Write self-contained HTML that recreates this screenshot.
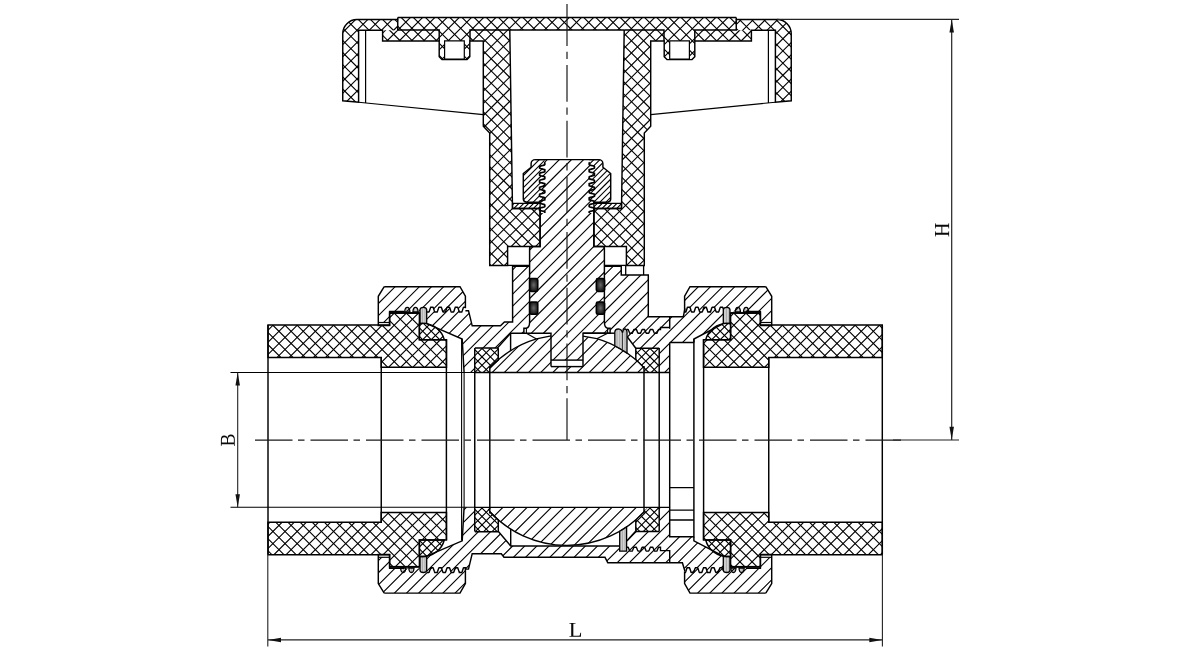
<!DOCTYPE html>
<html><head><meta charset="utf-8"><title>Ball valve section</title>
<style>html,body{margin:0;padding:0;background:#fff;font-family:"Liberation Serif",serif}svg{display:block}</style>
</head><body>
<svg width="1203" height="660" viewBox="0 0 1203 660">
<rect width="1203" height="660" fill="#fff"/>
<defs>
<clipPath id="c1"><path d="M567 17.5L397.75 17.5L397.75 30.3L382.6 30.3L382.6 41L439.2 41L439.2 56.8L442 59.6L467 59.6L469.8 56.8L469.8 41L483.3 41L483.3 126.3L489.7 133L489.7 265.4L507.6 265.4L507.6 246.5L540.1 246.5L540.1 208.5L512.5 208.5L509.8 30L567 30ZM444.6 40.9L464.3 40.9L464.3 59L444.6 59Z" clip-rule="evenodd"/></clipPath>
<clipPath id="c2"><path d="M397.75 19.5L357 19.5A14.2 14.2 0 0 0 342.75 33.7L342.75 100.75L358.6 102.2L358.6 30.3L397.75 30.3Z" clip-rule="evenodd"/></clipPath>
<clipPath id="c3"><path d="M567 17.5L736.25 17.5L736.25 30.3L751.4 30.3L751.4 41L694.8 41L694.8 56.8L692 59.6L667 59.6L664.2 56.8L664.2 41L650.7 41L650.7 126.3L644.3 133L644.3 265.4L626.4 265.4L626.4 246.5L593.9 246.5L593.9 208.5L621.5 208.5L624.2 30L567 30ZM689.4 40.9L669.7 40.9L669.7 59L689.4 59Z" clip-rule="evenodd"/></clipPath>
<clipPath id="c4"><path d="M736.25 19.5L777 19.5A14.2 14.2 0 0 1 791.25 33.7L791.25 100.75L775.4 102.2L775.4 30.3L736.25 30.3Z" clip-rule="evenodd"/></clipPath>
<clipPath id="c5"><path d="M567 159.6L544.7 159.6L544.12 162.5L544.8 162.9L544.8 163.3L544.8 163.7L544.8 164.1L544.8 164.5L544.45 164.9L542.97 165.31L541.39 165.71L539.91 166.11L539.6 166.51L539.6 166.91L539.6 167.31L539.6 167.71L539.6 168.11L540.32 168.51L541.85 168.91L543.43 169.31L544.8 169.71L544.8 170.12L544.8 170.52L544.8 170.92L544.8 171.32L544.8 171.72L543.68 172.12L542.12 172.52L540.57 172.92L539.6 173.32L539.6 173.72L539.6 174.12L539.6 174.52L539.6 174.92L539.68 175.33L541.12 175.73L542.7 176.13L544.22 176.53L544.8 176.93L544.8 177.33L544.8 177.73L544.8 178.13L544.8 178.53L544.36 178.93L542.86 179.33L541.28 179.73L539.82 180.13L539.6 180.54L539.6 180.94L539.6 181.34L539.6 181.74L539.6 182.14L540.43 182.54L541.96 182.94L543.53 183.34L544.8 183.74L544.8 184.14L544.8 184.54L544.8 184.94L544.8 185.35L544.8 185.75L543.58 186.15L542.01 186.55L540.47 186.95L539.6 187.35L539.6 187.75L539.6 188.15L539.6 188.55L539.6 188.95L539.78 189.35L541.23 189.75L542.81 190.15L544.31 190.56L544.8 190.96L544.8 191.36L544.8 191.76L544.8 192.16L544.8 192.56L544.26 192.96L542.75 193.36L541.17 193.76L539.72 194.16L539.6 194.56L539.6 194.96L539.6 195.37L539.6 195.77L539.6 196.17L540.53 196.57L542.07 196.97L543.64 197.37L544.8 197.77L544.8 198.17L544.8 198.57L544.8 198.97L544.8 199.37L544.8 199.77L543.47 200.17L541.9 200.58L540.37 200.98L539.6 201.38L539.6 201.78L539.6 202.18L539.6 202.58L539.6 202.98L539.87 203.38L541.34 203.78L542.92 204.18L544.41 204.58L544.8 204.98L544.8 205.38L544.8 205.79L544.8 206.19L544.8 206.59L544.16 206.99L542.64 207.39L541.06 207.79L539.63 208.19L539.6 208.59L539.6 208.99L539.6 209.39L539.6 209.79L539.6 210.19L540.63 210.6L542.18 211L543.74 211.4L544.8 211.8L544.8 212.2L544.8 212.6L544.8 213L540.1 213L540.1 246.5L531.6 246.5A2 2 0 0 0 529.6 248.5L529.6 322.5Q529.4 327.6 526.4 328.3L523.9 328.3L523.9 333.2L551 333.2L551 360.1L567 360.1Z" clip-rule="evenodd"/></clipPath>
<clipPath id="c6"><path d="M567 159.6L589.3 159.6L589.88 162.5L589.2 162.9L589.2 163.3L589.2 163.7L589.2 164.1L589.2 164.5L589.55 164.9L591.03 165.31L592.61 165.71L594.09 166.11L594.4 166.51L594.4 166.91L594.4 167.31L594.4 167.71L594.4 168.11L593.68 168.51L592.15 168.91L590.57 169.31L589.2 169.71L589.2 170.12L589.2 170.52L589.2 170.92L589.2 171.32L589.2 171.72L590.32 172.12L591.88 172.52L593.43 172.92L594.4 173.32L594.4 173.72L594.4 174.12L594.4 174.52L594.4 174.92L594.32 175.33L592.88 175.73L591.3 176.13L589.78 176.53L589.2 176.93L589.2 177.33L589.2 177.73L589.2 178.13L589.2 178.53L589.64 178.93L591.14 179.33L592.72 179.73L594.18 180.13L594.4 180.54L594.4 180.94L594.4 181.34L594.4 181.74L594.4 182.14L593.57 182.54L592.04 182.94L590.47 183.34L589.2 183.74L589.2 184.14L589.2 184.54L589.2 184.94L589.2 185.35L589.2 185.75L590.42 186.15L591.99 186.55L593.53 186.95L594.4 187.35L594.4 187.75L594.4 188.15L594.4 188.55L594.4 188.95L594.22 189.35L592.77 189.75L591.19 190.15L589.69 190.56L589.2 190.96L589.2 191.36L589.2 191.76L589.2 192.16L589.2 192.56L589.74 192.96L591.25 193.36L592.83 193.76L594.28 194.16L594.4 194.56L594.4 194.96L594.4 195.37L594.4 195.77L594.4 196.17L593.47 196.57L591.93 196.97L590.36 197.37L589.2 197.77L589.2 198.17L589.2 198.57L589.2 198.97L589.2 199.37L589.2 199.77L590.53 200.17L592.1 200.58L593.63 200.98L594.4 201.38L594.4 201.78L594.4 202.18L594.4 202.58L594.4 202.98L594.13 203.38L592.66 203.78L591.08 204.18L589.59 204.58L589.2 204.98L589.2 205.38L589.2 205.79L589.2 206.19L589.2 206.59L589.84 206.99L591.36 207.39L592.94 207.79L594.37 208.19L594.4 208.59L594.4 208.99L594.4 209.39L594.4 209.79L594.4 210.19L593.37 210.6L591.82 211L590.26 211.4L589.2 211.8L589.2 212.2L589.2 212.6L589.2 213L593.9 213L593.9 246.5L602.4 246.5A2 2 0 0 1 604.4 248.5L604.4 322.5Q604.6 327.6 607.6 328.3L610.1 328.3L610.1 333.2L583 333.2L583 360.1L567 360.1Z" clip-rule="evenodd"/></clipPath>
<clipPath id="c7"><path d="M544.7 159.6L535.3 159.6A4.2 4.2 0 0 0 531.1 163.8L531.1 167.2L523.3 173.5L523.3 199.1Q523.5 202 527 202.3L541 202.3L539.6 202.18L539.6 201.78L539.6 201.38L540.37 200.98L541.9 200.58L543.47 200.17L544.8 199.77L544.8 199.37L544.8 198.97L544.8 198.57L544.8 198.17L544.8 197.77L543.64 197.37L542.07 196.97L540.53 196.57L539.6 196.17L539.6 195.77L539.6 195.37L539.6 194.96L539.6 194.56L539.72 194.16L541.17 193.76L542.75 193.36L544.26 192.96L544.8 192.56L544.8 192.16L544.8 191.76L544.8 191.36L544.8 190.96L544.31 190.56L542.81 190.15L541.23 189.75L539.78 189.35L539.6 188.95L539.6 188.55L539.6 188.15L539.6 187.75L539.6 187.35L540.47 186.95L542.01 186.55L543.58 186.15L544.8 185.75L544.8 185.35L544.8 184.94L544.8 184.54L544.8 184.14L544.8 183.74L543.53 183.34L541.96 182.94L540.43 182.54L539.6 182.14L539.6 181.74L539.6 181.34L539.6 180.94L539.6 180.54L539.82 180.13L541.28 179.73L542.86 179.33L544.36 178.93L544.8 178.53L544.8 178.13L544.8 177.73L544.8 177.33L544.8 176.93L544.22 176.53L542.7 176.13L541.12 175.73L539.68 175.33L539.6 174.92L539.6 174.52L539.6 174.12L539.6 173.72L539.6 173.32L540.57 172.92L542.12 172.52L543.68 172.12L544.8 171.72L544.8 171.32L544.8 170.92L544.8 170.52L544.8 170.12L544.8 169.71L543.43 169.31L541.85 168.91L540.32 168.51L539.6 168.11L539.6 167.71L539.6 167.31L539.6 166.91L539.6 166.51L539.91 166.11L541.39 165.71L542.97 165.31L544.45 164.9L544.8 164.5L544.8 164.1L544.8 163.7L544.8 163.3L544.8 162.9L544.12 162.5Z" clip-rule="evenodd"/></clipPath>
<clipPath id="c8"><path d="M512.5 203.3L540.1 203.3L540.1 208.5L512.5 208.5Z" clip-rule="evenodd"/></clipPath>
<clipPath id="c9"><path d="M589.3 159.6L598.7 159.6A4.2 4.2 0 0 1 602.9 163.8L602.9 167.2L610.7 173.5L610.7 199.1Q610.5 202 607 202.3L593 202.3L594.4 202.18L594.4 201.78L594.4 201.38L593.63 200.98L592.1 200.58L590.53 200.17L589.2 199.77L589.2 199.37L589.2 198.97L589.2 198.57L589.2 198.17L589.2 197.77L590.36 197.37L591.93 196.97L593.47 196.57L594.4 196.17L594.4 195.77L594.4 195.37L594.4 194.96L594.4 194.56L594.28 194.16L592.83 193.76L591.25 193.36L589.74 192.96L589.2 192.56L589.2 192.16L589.2 191.76L589.2 191.36L589.2 190.96L589.69 190.56L591.19 190.15L592.77 189.75L594.22 189.35L594.4 188.95L594.4 188.55L594.4 188.15L594.4 187.75L594.4 187.35L593.53 186.95L591.99 186.55L590.42 186.15L589.2 185.75L589.2 185.35L589.2 184.94L589.2 184.54L589.2 184.14L589.2 183.74L590.47 183.34L592.04 182.94L593.57 182.54L594.4 182.14L594.4 181.74L594.4 181.34L594.4 180.94L594.4 180.54L594.18 180.13L592.72 179.73L591.14 179.33L589.64 178.93L589.2 178.53L589.2 178.13L589.2 177.73L589.2 177.33L589.2 176.93L589.78 176.53L591.3 176.13L592.88 175.73L594.32 175.33L594.4 174.92L594.4 174.52L594.4 174.12L594.4 173.72L594.4 173.32L593.43 172.92L591.88 172.52L590.32 172.12L589.2 171.72L589.2 171.32L589.2 170.92L589.2 170.52L589.2 170.12L589.2 169.71L590.57 169.31L592.15 168.91L593.68 168.51L594.4 168.11L594.4 167.71L594.4 167.31L594.4 166.91L594.4 166.51L594.09 166.11L592.61 165.71L591.03 165.31L589.55 164.9L589.2 164.5L589.2 164.1L589.2 163.7L589.2 163.3L589.2 162.9L589.88 162.5Z" clip-rule="evenodd"/></clipPath>
<clipPath id="c10"><path d="M621.5 203.3L593.9 203.3L593.9 208.5L621.5 208.5Z" clip-rule="evenodd"/></clipPath>
<radialGradient id="org" cx="0.5" cy="0.5" r="0.6"><stop offset="0" stop-color="#6a6a6a"/><stop offset="0.55" stop-color="#333"/><stop offset="1" stop-color="#0c0c0c"/></radialGradient>
<clipPath id="c11"><path d="M529.6 266.3L512.6 266.3L512.6 322L504.4 322L500.5 325.8L472.2 325.8L468.5 310.7L465.4 310.7L465.4 307.3L465 307.3L464.59 307.3L464.19 307.3L463.79 307.3L463.38 307.52L462.98 308.65L462.58 309.87L462.17 311.07L461.77 312L461.37 312L460.97 312L460.56 312L460.16 312L459.76 312L459.35 311.96L458.95 310.86L458.55 309.64L458.14 308.43L457.74 307.33L457.34 307.3L456.93 307.3L456.53 307.3L456.13 307.3L455.72 307.3L455.32 307.3L454.92 308.25L454.52 309.45L454.11 310.67L453.71 311.8L453.31 312L452.9 312L452.5 312L452.1 312L451.69 312L451.29 312L450.89 311.25L450.48 310.06L450.08 308.83L449.68 307.68L449.27 307.3L448.87 307.3L448.47 307.3L448.07 307.3L447.66 307.3L447.26 307.3L446.86 307.86L446.45 309.03L446.05 310.26L445.65 311.43L445.24 312L444.84 312L444.44 312L444.03 312L443.63 312L443.23 312L442.82 311.63L442.42 310.48L442.02 309.25L441.62 308.06L441.21 307.3L440.81 307.3L440.41 307.3L440 307.3L439.6 307.3L439.2 307.3L438.79 307.49L438.39 308.62L437.99 309.84L437.58 311.05L437.18 312L436.78 312L436.38 312L435.97 312L435.57 312L435.17 312L434.76 311.98L434.36 310.88L433.96 309.67L433.55 308.45L433.15 307.35L432.75 307.3L432.34 307.3L431.94 307.3L431.54 307.3L431.13 307.3L430.73 307.3L430.33 308.22L429.93 309.42L429.52 310.64L429.12 311.77L428.72 312L428.31 312L427.91 312L427.51 312L427.1 312L426.7 312L426.7 323.6L462.2 339L464.1 372.5L474.75 372.5L474.75 348L497.4 348L510.6 333.2L523.9 333.2L523.9 328.3L526.4 328.3Q529.4 327.6 529.6 322.5Z" clip-rule="evenodd"/></clipPath>
<clipPath id="c12"><path d="M604.6 266.3L621.25 266.3L621.25 274.9L648.3 274.9L648.3 316.7L683.3 316.7L685 308.3L684.6 312L685 312L685.41 312L685.81 312L686.21 310.96L686.62 309.76L687.02 308.54L687.42 307.42L687.83 307.3L688.23 307.3L688.63 307.3L689.03 307.3L689.44 307.3L689.84 307.3L690.24 308.14L690.65 309.33L691.05 310.56L691.45 311.7L691.86 312L692.26 312L692.66 312L693.07 312L693.47 312L693.87 312L694.28 311.35L694.68 310.17L695.08 308.95L695.48 307.78L695.89 307.3L696.29 307.3L696.69 307.3L697.1 307.3L697.5 307.3L697.9 307.3L698.31 307.76L698.71 308.92L699.11 310.15L699.52 311.33L699.92 312L700.32 312L700.73 312L701.13 312L701.53 312L701.93 312L702.34 311.72L702.74 310.59L703.14 309.36L703.55 308.17L703.95 307.3L704.35 307.3L704.76 307.3L705.16 307.3L705.56 307.3L705.97 307.3L706.37 307.4L706.77 308.51L707.17 309.73L707.58 310.94L707.98 312L708.38 312L708.79 312L709.19 312L709.59 312L710 312L710.4 312L710.8 310.99L711.21 309.78L711.61 308.56L712.01 307.45L712.42 307.3L712.82 307.3L713.22 307.3L713.62 307.3L714.03 307.3L714.43 307.3L714.83 308.11L715.24 309.31L715.64 310.53L716.04 311.68L716.45 312L716.85 312L717.25 312L717.66 312L718.06 312L718.46 312L718.87 311.38L719.27 310.2L719.67 308.97L720.08 307.81L720.48 307.3L720.88 307.3L721.28 307.3L721.69 307.3L722.09 307.3L722.49 307.3L722.9 307.73L723.3 308.89L723.3 323.6L693.9 339L693.9 342.5L669.7 342.5L669.7 372.5L659.2 372.5L659.2 348.3L635.8 348.3L627 336.5L627 329.5L615 329.5L615 333.2L610.1 333.2L610.1 328.3L607.6 328.3Q604.8 327.6 604.6 322.5Z" clip-rule="evenodd"/></clipPath>
<clipPath id="c13"><path d="M426.7 572.5L427.1 572.5L427.51 572.5L427.91 572.5L428.31 572.5L428.72 572.5L429.12 572.27L429.52 571.14L429.93 569.92L430.33 568.72L430.73 567.8L431.13 567.8L431.54 567.8L431.94 567.8L432.34 567.8L432.75 567.8L433.15 567.85L433.55 568.95L433.96 570.17L434.36 571.38L434.76 572.48L435.17 572.5L435.57 572.5L435.97 572.5L436.38 572.5L436.78 572.5L437.18 572.5L437.58 571.55L437.99 570.34L438.39 569.12L438.79 567.99L439.2 567.8L439.6 567.8L440 567.8L440.41 567.8L440.81 567.8L441.21 567.8L441.62 568.56L442.02 569.75L442.42 570.98L442.82 572.13L443.23 572.5L443.63 572.5L444.03 572.5L444.44 572.5L444.84 572.5L445.24 572.5L445.65 571.93L446.05 570.76L446.45 569.53L446.86 568.36L447.26 567.8L447.66 567.8L448.07 567.8L448.47 567.8L448.87 567.8L449.27 567.8L449.68 568.18L450.08 569.33L450.48 570.56L450.89 571.75L451.29 572.5L451.69 572.5L452.1 572.5L452.5 572.5L452.9 572.5L453.31 572.5L453.71 572.3L454.11 571.17L454.52 569.95L454.92 568.75L455.32 567.8L455.72 567.8L456.13 567.8L456.53 567.8L456.93 567.8L457.34 567.8L457.74 567.83L458.14 568.93L458.55 570.14L458.95 571.36L459.35 572.46L459.76 572.5L460.16 572.5L460.56 572.5L460.97 572.5L461.37 572.5L461.77 572.5L462.17 571.57L462.58 570.37L462.98 569.15L463.38 568.02L463.79 567.8L464.19 567.8L464.59 567.8L465 567.8L465.4 567.8L465.4 569.1L468.5 569.1L472.2 553.7L501.3 553.7L504 557.3L605 557.3L607.8 562.8L682.4 562.8L685 571.5L684.6 572.5L685 572.5L685.41 572.5L685.81 571.47L686.21 570.26L686.62 569.05L687.02 567.93L687.42 567.8L687.83 567.8L688.23 567.8L688.63 567.8L689.03 567.8L689.44 567.8L689.84 568.63L690.24 569.83L690.65 571.05L691.05 572.19L691.45 572.5L691.86 572.5L692.26 572.5L692.66 572.5L693.07 572.5L693.47 572.5L693.87 571.86L694.28 570.68L694.68 569.46L695.08 568.29L695.48 567.8L695.89 567.8L696.29 567.8L696.69 567.8L697.1 567.8L697.5 567.8L697.9 568.25L698.31 569.41L698.71 570.64L699.11 571.82L699.52 572.5L699.92 572.5L700.32 572.5L700.73 572.5L701.13 572.5L701.53 572.5L701.93 572.23L702.34 571.1L702.74 569.87L703.14 568.67L703.55 567.8L703.95 567.8L704.35 567.8L704.76 567.8L705.16 567.8L705.56 567.8L705.97 567.89L706.37 569L706.77 570.22L707.17 571.43L707.58 572.5L707.98 572.5L708.38 572.5L708.79 572.5L709.19 572.5L709.59 572.5L710 572.5L710.4 571.5L710.8 570.29L711.21 569.07L711.61 567.95L712.01 567.8L712.42 567.8L712.82 567.8L713.22 567.8L713.62 567.8L714.03 567.8L714.43 568.6L714.83 569.8L715.24 571.02L715.64 572.17L716.04 572.5L716.45 572.5L716.85 572.5L717.25 572.5L717.66 572.5L718.06 572.5L718.46 571.89L718.87 570.71L719.27 569.48L719.67 568.32L720.08 567.8L720.48 567.8L720.88 567.8L721.28 567.8L721.69 567.8L722.09 567.8L722.49 568.22L722.9 569.38L723.3 570.61L723.3 556.2L693.9 540.8L693.9 536.8L669.7 536.8L669.7 507.3L659.2 507.3L659.2 531.3L635.6 531.3L627 540.7L627 551.2L619.7 551.2L619.7 546L510.7 546L498.2 531.3L474.75 531.3L474.75 507.3L464.1 507.3L462.2 540.8L426.7 556.2Z" clip-rule="evenodd"/></clipPath>
<clipPath id="c14"><path d="M485.84 372.5A105.5 105.5 0 0 1 536.5 338.9L551 335.8V366.6H583V336.2L596.8 338.7A105.5 105.5 0 0 1 648.16 372.5Z" clip-rule="evenodd"/></clipPath>
<clipPath id="c15"><path d="M485.84 507.3A105.5 105.5 0 0 0 648.16 507.3Z" clip-rule="evenodd"/></clipPath>
<clipPath id="c16"><path d="M474.9 348L497.6 348L498.3 348.8L498.3 359.83A105.5 105.5 0 0 0 489.8 367.99L489.8 372.5L474.75 372.5Z" clip-rule="evenodd"/></clipPath>
<clipPath id="c17"><path d="M635.8 359.92L635.8 348.3L659.2 348.3L659.2 372.5L644 372.5L644 367.78A105.5 105.5 0 0 0 635.8 359.92Z" clip-rule="evenodd"/></clipPath>
<clipPath id="c18"><path d="M474.9 531.8L497.6 531.8L498.3 531L498.3 519.97A105.5 105.5 0 0 1 489.8 511.81L489.8 507.3L474.75 507.3Z" clip-rule="evenodd"/></clipPath>
<clipPath id="c19"><path d="M635.8 519.88L635.8 531.5L659.2 531.5L659.2 507.3L644 507.3L644 512.02A105.5 105.5 0 0 1 635.8 519.88Z" clip-rule="evenodd"/></clipPath>
<clipPath id="c20"><path d="M420 323.3L420 309.6Q420.2 307.3 423.3 307.3Q426.5 307.3 426.7 309.6L426.7 323.3Z" clip-rule="evenodd"/></clipPath>
<clipPath id="c21"><path d="M412.9 311.8Q413.1 307.3 415.5 307.3Q417.9 307.3 418.1 311.8Z" clip-rule="evenodd"/></clipPath>
<clipPath id="c22"><path d="M404.7 311.8Q404.9 307.3 407.3 307.3Q409.7 307.3 409.9 311.8Z" clip-rule="evenodd"/></clipPath>
<clipPath id="c23"><path d="M420 556.5L420 570.2Q420.2 572.5 423.3 572.5Q426.5 572.5 426.7 570.2L426.7 556.5Z" clip-rule="evenodd"/></clipPath>
<clipPath id="c24"><path d="M408.8 568Q409 572.5 411.4 572.5Q413.8 572.5 414 568Z" clip-rule="evenodd"/></clipPath>
<clipPath id="c25"><path d="M400.6 568Q400.8 572.5 403.2 572.5Q405.6 572.5 405.8 568Z" clip-rule="evenodd"/></clipPath>
<clipPath id="c26"><path d="M730 323.3L730 309.6Q729.8 307.3 726.7 307.3Q723.5 307.3 723.3 309.6L723.3 323.3Z" clip-rule="evenodd"/></clipPath>
<clipPath id="c27"><path d="M740.5 311.8Q740.3 307.3 737.9 307.3Q735.5 307.3 735.3 311.8Z" clip-rule="evenodd"/></clipPath>
<clipPath id="c28"><path d="M748.7 311.8Q748.5 307.3 746.1 307.3Q743.7 307.3 743.5 311.8Z" clip-rule="evenodd"/></clipPath>
<clipPath id="c29"><path d="M730 556.5L730 570.2Q729.8 572.5 726.7 572.5Q723.5 572.5 723.3 570.2L723.3 556.5Z" clip-rule="evenodd"/></clipPath>
<clipPath id="c30"><path d="M736 568Q735.8 572.5 733.4 572.5Q731 572.5 730.8 568Z" clip-rule="evenodd"/></clipPath>
<clipPath id="c31"><path d="M744.2 568Q744 572.5 741.6 572.5Q739.2 572.5 739 568Z" clip-rule="evenodd"/></clipPath>
<clipPath id="c32"><path d="M614.8 345.85V332Q615 329.2 618.4 328.9Q621.6 329.2 622.5 332.8Q623 329.3 624.9 328.9Q626.8 329.2 627 332V353.12A105.5 105.5 0 0 0 614.8 345.85Z" clip-rule="evenodd"/></clipPath>
<clipPath id="c33"><path d="M619.7 531.29V551.2H626.6V526.95A105.5 105.5 0 0 1 619.7 531.29Z" clip-rule="evenodd"/></clipPath>
<clipPath id="c34"><path d="M268 325L389.6 325L389.6 313L419.4 313L419.4 339.8L446.5 339.8L446.5 367.2L381.25 367.2L381.25 357.5L268 357.5Z" clip-rule="evenodd"/></clipPath>
<clipPath id="c35"><path d="M419.4 339.8L419.4 323.4L422.7 323.4A21.9 21.9 0 0 1 444.3 339.8Z" clip-rule="evenodd"/></clipPath>
<clipPath id="c36"><path d="M384.2 286.7L460 286.7L465.4 296.25L465.4 308.3L465.4 307.3L465 307.3L464.59 307.3L464.19 307.3L463.79 307.3L463.38 307.52L462.98 308.65L462.58 309.87L462.17 311.07L461.77 312L461.37 312L460.97 312L460.56 312L460.16 312L459.76 312L459.35 311.96L458.95 310.86L458.55 309.64L458.14 308.43L457.74 307.33L457.34 307.3L456.93 307.3L456.53 307.3L456.13 307.3L455.72 307.3L455.32 307.3L454.92 308.25L454.52 309.45L454.11 310.67L453.71 311.8L453.31 312L452.9 312L452.5 312L452.1 312L451.69 312L451.29 312L450.89 311.25L450.48 310.06L450.08 308.83L449.68 307.68L449.27 307.3L448.87 307.3L448.47 307.3L448.07 307.3L447.66 307.3L447.26 307.3L446.86 307.86L446.45 309.03L446.05 310.26L445.65 311.43L445.24 312L444.84 312L444.44 312L444.03 312L443.63 312L443.23 312L442.82 311.63L442.42 310.48L442.02 309.25L441.62 308.06L441.21 307.3L440.81 307.3L440.41 307.3L440 307.3L439.6 307.3L439.2 307.3L438.79 307.49L438.39 308.62L437.99 309.84L437.58 311.05L437.18 312L436.78 312L436.38 312L435.97 312L435.57 312L435.17 312L434.76 311.98L434.36 310.88L433.96 309.67L433.55 308.45L433.15 307.35L432.75 307.3L432.34 307.3L431.94 307.3L431.54 307.3L431.13 307.3L430.73 307.3L430.33 308.22L429.93 309.42L429.52 310.64L429.12 311.77L428.72 312L428.31 312L427.91 312L427.51 312L427.1 312L426.7 312L426.7 307.6L420 307.6L420 311.5L389.6 311.5L389.6 322.5L378.3 322.5L378.3 296.25Z" clip-rule="evenodd"/></clipPath>
<clipPath id="c37"><path d="M268 554.8L389.6 554.8L389.6 566.8L419.4 566.8L419.4 540L446.5 540L446.5 512.6L381.25 512.6L381.25 522.3L268 522.3Z" clip-rule="evenodd"/></clipPath>
<clipPath id="c38"><path d="M419.4 540L419.4 556.4L422.7 556.4A21.9 21.9 0 0 0 444.3 540Z" clip-rule="evenodd"/></clipPath>
<clipPath id="c39"><path d="M384.2 593.1L460 593.1L465.4 583.55L465.4 571.5L465.4 567.8L465 567.8L464.59 567.8L464.19 567.8L463.79 567.8L463.38 568.02L462.98 569.15L462.58 570.37L462.17 571.57L461.77 572.5L461.37 572.5L460.97 572.5L460.56 572.5L460.16 572.5L459.76 572.5L459.35 572.46L458.95 571.36L458.55 570.14L458.14 568.93L457.74 567.83L457.34 567.8L456.93 567.8L456.53 567.8L456.13 567.8L455.72 567.8L455.32 567.8L454.92 568.75L454.52 569.95L454.11 571.17L453.71 572.3L453.31 572.5L452.9 572.5L452.5 572.5L452.1 572.5L451.69 572.5L451.29 572.5L450.89 571.75L450.48 570.56L450.08 569.33L449.68 568.18L449.27 567.8L448.87 567.8L448.47 567.8L448.07 567.8L447.66 567.8L447.26 567.8L446.86 568.36L446.45 569.53L446.05 570.76L445.65 571.93L445.24 572.5L444.84 572.5L444.44 572.5L444.03 572.5L443.63 572.5L443.23 572.5L442.82 572.13L442.42 570.98L442.02 569.75L441.62 568.56L441.21 567.8L440.81 567.8L440.41 567.8L440 567.8L439.6 567.8L439.2 567.8L438.79 567.99L438.39 569.12L437.99 570.34L437.58 571.55L437.18 572.5L436.78 572.5L436.38 572.5L435.97 572.5L435.57 572.5L435.17 572.5L434.76 572.48L434.36 571.38L433.96 570.17L433.55 568.95L433.15 567.85L432.75 567.8L432.34 567.8L431.94 567.8L431.54 567.8L431.13 567.8L430.73 567.8L430.33 568.72L429.93 569.92L429.52 571.14L429.12 572.27L428.72 572.5L428.31 572.5L427.91 572.5L427.51 572.5L427.1 572.5L426.7 572.5L426.7 572.2L420 572.2L420 568.3L389.6 568.3L389.6 557.3L378.3 557.3L378.3 583.55Z" clip-rule="evenodd"/></clipPath>
<clipPath id="c40"><path d="M882.3 325L760.4 325L760.4 313L730.6 313L730.6 339.8L703.5 339.8L703.5 367.2L768.75 367.2L768.75 357.5L882.3 357.5Z" clip-rule="evenodd"/></clipPath>
<clipPath id="c41"><path d="M730.6 339.8L730.6 323.4L727.3 323.4A21.9 21.9 0 0 0 705.7 339.8Z" clip-rule="evenodd"/></clipPath>
<clipPath id="c42"><path d="M765.8 286.7L690 286.7L684.6 296.25L684.6 308.3L684.6 312L685 312L685.41 312L685.81 312L686.21 310.96L686.62 309.76L687.02 308.54L687.42 307.42L687.83 307.3L688.23 307.3L688.63 307.3L689.03 307.3L689.44 307.3L689.84 307.3L690.24 308.14L690.65 309.33L691.05 310.56L691.45 311.7L691.86 312L692.26 312L692.66 312L693.07 312L693.47 312L693.87 312L694.28 311.35L694.68 310.17L695.08 308.95L695.48 307.78L695.89 307.3L696.29 307.3L696.69 307.3L697.1 307.3L697.5 307.3L697.9 307.3L698.31 307.76L698.71 308.92L699.11 310.15L699.52 311.33L699.92 312L700.32 312L700.73 312L701.13 312L701.53 312L701.93 312L702.34 311.72L702.74 310.59L703.14 309.36L703.55 308.17L703.95 307.3L704.35 307.3L704.76 307.3L705.16 307.3L705.56 307.3L705.97 307.3L706.37 307.4L706.77 308.51L707.17 309.73L707.58 310.94L707.98 312L708.38 312L708.79 312L709.19 312L709.59 312L710 312L710.4 312L710.8 310.99L711.21 309.78L711.61 308.56L712.01 307.45L712.42 307.3L712.82 307.3L713.22 307.3L713.62 307.3L714.03 307.3L714.43 307.3L714.83 308.11L715.24 309.31L715.64 310.53L716.04 311.68L716.45 312L716.85 312L717.25 312L717.66 312L718.06 312L718.46 312L718.87 311.38L719.27 310.2L719.67 308.97L720.08 307.81L720.48 307.3L720.88 307.3L721.28 307.3L721.69 307.3L722.09 307.3L722.49 307.3L722.9 307.73L723.3 308.89L723.3 307.6L730 307.6L730 311.5L760.4 311.5L760.4 322.5L771.7 322.5L771.7 296.25Z" clip-rule="evenodd"/></clipPath>
<clipPath id="c43"><path d="M882.3 554.8L760.4 554.8L760.4 566.8L730.6 566.8L730.6 540L703.5 540L703.5 512.6L768.75 512.6L768.75 522.3L882.3 522.3Z" clip-rule="evenodd"/></clipPath>
<clipPath id="c44"><path d="M730.6 540L730.6 556.4L727.3 556.4A21.9 21.9 0 0 1 705.7 540Z" clip-rule="evenodd"/></clipPath>
<clipPath id="c45"><path d="M765.8 593.1L690 593.1L684.6 583.55L684.6 571.5L684.6 572.5L685 572.5L685.41 572.5L685.81 571.47L686.21 570.26L686.62 569.05L687.02 567.93L687.42 567.8L687.83 567.8L688.23 567.8L688.63 567.8L689.03 567.8L689.44 567.8L689.84 568.63L690.24 569.83L690.65 571.05L691.05 572.19L691.45 572.5L691.86 572.5L692.26 572.5L692.66 572.5L693.07 572.5L693.47 572.5L693.87 571.86L694.28 570.68L694.68 569.46L695.08 568.29L695.48 567.8L695.89 567.8L696.29 567.8L696.69 567.8L697.1 567.8L697.5 567.8L697.9 568.25L698.31 569.41L698.71 570.64L699.11 571.82L699.52 572.5L699.92 572.5L700.32 572.5L700.73 572.5L701.13 572.5L701.53 572.5L701.93 572.23L702.34 571.1L702.74 569.87L703.14 568.67L703.55 567.8L703.95 567.8L704.35 567.8L704.76 567.8L705.16 567.8L705.56 567.8L705.97 567.89L706.37 569L706.77 570.22L707.17 571.43L707.58 572.5L707.98 572.5L708.38 572.5L708.79 572.5L709.19 572.5L709.59 572.5L710 572.5L710.4 571.5L710.8 570.29L711.21 569.07L711.61 567.95L712.01 567.8L712.42 567.8L712.82 567.8L713.22 567.8L713.62 567.8L714.03 567.8L714.43 568.6L714.83 569.8L715.24 571.02L715.64 572.17L716.04 572.5L716.45 572.5L716.85 572.5L717.25 572.5L717.66 572.5L718.06 572.5L718.46 571.89L718.87 570.71L719.27 569.48L719.67 568.32L720.08 567.8L720.48 567.8L720.88 567.8L721.28 567.8L721.69 567.8L722.09 567.8L722.49 568.22L722.9 569.38L723.3 570.61L723.3 572.2L730 572.2L730 568.3L760.4 568.3L760.4 557.3L771.7 557.3L771.7 583.55Z" clip-rule="evenodd"/></clipPath>
</defs>
<g clip-path="url(#c1)" fill="none"><path d="M386.97 16.5L137.07 266.4M399.19 16.5L149.29 266.4M411.4 16.5L161.5 266.4M423.61 16.5L173.71 266.4M435.83 16.5L185.93 266.4M448.04 16.5L198.14 266.4M460.26 16.5L210.36 266.4M472.47 16.5L222.57 266.4M484.68 16.5L234.78 266.4M496.9 16.5L247 266.4M509.11 16.5L259.21 266.4M521.33 16.5L271.43 266.4M533.54 16.5L283.64 266.4M545.75 16.5L295.85 266.4M557.97 16.5L308.07 266.4M570.18 16.5L320.28 266.4M582.4 16.5L332.5 266.4M594.61 16.5L344.71 266.4M606.82 16.5L356.92 266.4M619.04 16.5L369.14 266.4M631.25 16.5L381.35 266.4M643.47 16.5L393.57 266.4M655.68 16.5L405.78 266.4M667.89 16.5L417.99 266.4M680.11 16.5L430.21 266.4M692.32 16.5L442.42 266.4M704.54 16.5L454.64 266.4M716.75 16.5L466.85 266.4M728.96 16.5L479.06 266.4M741.18 16.5L491.28 266.4M753.39 16.5L503.49 266.4M765.61 16.5L515.71 266.4M777.82 16.5L527.92 266.4M790.03 16.5L540.13 266.4M802.25 16.5L552.35 266.4M814.46 16.5L564.56 266.4" stroke="#000" stroke-width="1.12"/><path d="M132.46 16.5L382.36 266.4M144.63 16.5L394.53 266.4M156.8 16.5L406.7 266.4M168.97 16.5L418.87 266.4M181.14 16.5L431.04 266.4M193.31 16.5L443.21 266.4M205.48 16.5L455.38 266.4M217.65 16.5L467.55 266.4M229.82 16.5L479.72 266.4M241.99 16.5L491.89 266.4M254.16 16.5L504.06 266.4M266.33 16.5L516.23 266.4M278.5 16.5L528.4 266.4M290.67 16.5L540.57 266.4M302.84 16.5L552.74 266.4M315.01 16.5L564.91 266.4M327.18 16.5L577.08 266.4M339.35 16.5L589.25 266.4M351.52 16.5L601.42 266.4M363.69 16.5L613.59 266.4M375.86 16.5L625.76 266.4M388.03 16.5L637.93 266.4M400.2 16.5L650.1 266.4M412.37 16.5L662.27 266.4M424.54 16.5L674.44 266.4M436.71 16.5L686.61 266.4M448.88 16.5L698.78 266.4M461.05 16.5L710.95 266.4M473.22 16.5L723.12 266.4M485.39 16.5L735.29 266.4M497.56 16.5L747.46 266.4M509.73 16.5L759.63 266.4M521.9 16.5L771.8 266.4M534.07 16.5L783.97 266.4M546.24 16.5L796.14 266.4M558.41 16.5L808.31 266.4" stroke="#000" stroke-width="1.12"/></g>
<g clip-path="url(#c2)" fill="none"><path d="M344.49 18.5L259.79 103.2M356.66 18.5L271.96 103.2M368.83 18.5L284.13 103.2M381 18.5L296.3 103.2M393.17 18.5L308.47 103.2M405.34 18.5L320.64 103.2M417.51 18.5L332.81 103.2M429.68 18.5L344.98 103.2M441.85 18.5L357.15 103.2M454.02 18.5L369.32 103.2M466.19 18.5L381.49 103.2M478.36 18.5L393.66 103.2" stroke="#000" stroke-width="1.12"/><path d="M259.95 18.5L344.65 103.2M272.12 18.5L356.82 103.2M284.29 18.5L368.99 103.2M296.46 18.5L381.16 103.2M308.63 18.5L393.33 103.2M320.8 18.5L405.5 103.2M332.97 18.5L417.67 103.2M345.14 18.5L429.84 103.2M357.31 18.5L442.01 103.2M369.48 18.5L454.18 103.2M381.65 18.5L466.35 103.2M393.82 18.5L478.52 103.2" stroke="#000" stroke-width="1.12"/></g>
<g clip-path="url(#c3)" fill="none"><path d="M570.18 16.5L320.28 266.4M582.4 16.5L332.5 266.4M594.61 16.5L344.71 266.4M606.82 16.5L356.92 266.4M619.04 16.5L369.14 266.4M631.25 16.5L381.35 266.4M643.47 16.5L393.57 266.4M655.68 16.5L405.78 266.4M667.89 16.5L417.99 266.4M680.11 16.5L430.21 266.4M692.32 16.5L442.42 266.4M704.54 16.5L454.64 266.4M716.75 16.5L466.85 266.4M728.96 16.5L479.06 266.4M741.18 16.5L491.28 266.4M753.39 16.5L503.49 266.4M765.61 16.5L515.71 266.4M777.82 16.5L527.92 266.4M790.03 16.5L540.13 266.4M802.25 16.5L552.35 266.4M814.46 16.5L564.56 266.4M826.68 16.5L576.78 266.4M838.89 16.5L588.99 266.4M851.1 16.5L601.2 266.4M863.32 16.5L613.42 266.4M875.53 16.5L625.63 266.4M887.75 16.5L637.85 266.4M899.96 16.5L650.06 266.4M912.17 16.5L662.27 266.4M924.39 16.5L674.49 266.4M936.6 16.5L686.7 266.4M948.82 16.5L698.92 266.4M961.03 16.5L711.13 266.4M973.24 16.5L723.34 266.4M985.46 16.5L735.56 266.4M997.67 16.5L747.77 266.4" stroke="#000" stroke-width="1.12"/><path d="M327.18 16.5L577.08 266.4M339.35 16.5L589.25 266.4M351.52 16.5L601.42 266.4M363.69 16.5L613.59 266.4M375.86 16.5L625.76 266.4M388.03 16.5L637.93 266.4M400.2 16.5L650.1 266.4M412.37 16.5L662.27 266.4M424.54 16.5L674.44 266.4M436.71 16.5L686.61 266.4M448.88 16.5L698.78 266.4M461.05 16.5L710.95 266.4M473.22 16.5L723.12 266.4M485.39 16.5L735.29 266.4M497.56 16.5L747.46 266.4M509.73 16.5L759.63 266.4M521.9 16.5L771.8 266.4M534.07 16.5L783.97 266.4M546.24 16.5L796.14 266.4M558.41 16.5L808.31 266.4M570.58 16.5L820.48 266.4M582.75 16.5L832.65 266.4M594.92 16.5L844.82 266.4M607.09 16.5L856.99 266.4M619.26 16.5L869.16 266.4M631.43 16.5L881.33 266.4M643.6 16.5L893.5 266.4M655.77 16.5L905.67 266.4M667.94 16.5L917.84 266.4M680.11 16.5L930.01 266.4M692.28 16.5L942.18 266.4M704.45 16.5L954.35 266.4M716.62 16.5L966.52 266.4M728.79 16.5L978.69 266.4M740.96 16.5L990.86 266.4" stroke="#000" stroke-width="1.12"/></g>
<g clip-path="url(#c4)" fill="none"><path d="M742.28 18.5L657.58 103.2M754.45 18.5L669.75 103.2M766.62 18.5L681.92 103.2M778.79 18.5L694.09 103.2M790.96 18.5L706.26 103.2M803.13 18.5L718.43 103.2M815.3 18.5L730.6 103.2M827.47 18.5L742.77 103.2M839.64 18.5L754.94 103.2M851.81 18.5L767.11 103.2M863.98 18.5L779.28 103.2M876.15 18.5L791.45 103.2" stroke="#000" stroke-width="1.12"/><path d="M653.14 18.5L737.84 103.2M665.31 18.5L750.01 103.2M677.48 18.5L762.18 103.2M689.65 18.5L774.35 103.2M701.82 18.5L786.52 103.2M713.99 18.5L798.69 103.2M726.16 18.5L810.86 103.2M738.33 18.5L823.03 103.2M750.5 18.5L835.2 103.2M762.67 18.5L847.37 103.2M774.84 18.5L859.54 103.2M787.01 18.5L871.71 103.2" stroke="#000" stroke-width="1.12"/></g>
<path d="M397.75 17.5L397.75 19.5L357 19.5A14.2 14.2 0 0 0 342.75 33.7L342.75 100.75L358.6 102.2L358.6 30.3L382.6 30.3L382.6 41L439.2 41L439.2 56.8L442 59.6L467 59.6L469.8 56.8L469.8 41L483.3 41L483.3 126.3L489.7 133L489.7 265.4L507.6 265.4L507.6 246.5L540.1 246.5L540.1 208.5L512.5 208.5L509.8 30" fill="none" stroke="#000" stroke-width="1.45" />
<path d="M444.6 40.9L464.3 40.9L464.3 59L444.6 59Z" fill="none" stroke="#000" stroke-width="1.2" />
<path d="M397.75 19.5L397.75 30L439.2 30L439.2 41" fill="none" stroke="#000" stroke-width="1.45" />
<path d="M470 41L470 30L509.8 30" fill="none" stroke="#000" stroke-width="1.45" />
<path d="M365.6 30.3L365.6 102.9" fill="none" stroke="#000" stroke-width="1.2" />
<path d="M358.6 102.2L483.3 114.6" fill="none" stroke="#000" stroke-width="1.1" />
<path d="M507.6 265.4L529.6 265.4" fill="none" stroke="#000" stroke-width="1.3" />
<path d="M736.25 17.5L736.25 19.5L777 19.5A14.2 14.2 0 0 1 791.25 33.7L791.25 100.75L775.4 102.2L775.4 30.3L751.4 30.3L751.4 41L694.8 41L694.8 56.8L692 59.6L667 59.6L664.2 56.8L664.2 41L650.7 41L650.7 126.3L644.3 133L644.3 265.4L626.4 265.4L626.4 246.5L593.9 246.5L593.9 208.5L621.5 208.5L624.2 30" fill="none" stroke="#000" stroke-width="1.45" />
<path d="M689.4 40.9L669.7 40.9L669.7 59L689.4 59Z" fill="none" stroke="#000" stroke-width="1.2" />
<path d="M736.25 19.5L736.25 30L694.8 30L694.8 41" fill="none" stroke="#000" stroke-width="1.45" />
<path d="M664 41L664 30L624.2 30" fill="none" stroke="#000" stroke-width="1.45" />
<path d="M768.4 30.3L768.4 102.9" fill="none" stroke="#000" stroke-width="1.2" />
<path d="M775.4 102.2L650.7 114.6" fill="none" stroke="#000" stroke-width="1.1" />
<path d="M626.4 265.4L604.4 265.4" fill="none" stroke="#000" stroke-width="1.3" />
<path d="M397.75 17.5H736.25" fill="none" stroke="#000" stroke-width="1.45" />
<path d="M509.8 30H624.2" fill="none" stroke="#000" stroke-width="1.45" />
<g clip-path="url(#c5)" fill="none"><path d="M523.98 158.6L321.48 361.1M536.11 158.6L333.61 361.1M548.24 158.6L345.74 361.1M560.37 158.6L357.87 361.1M572.5 158.6L370 361.1M584.63 158.6L382.13 361.1M596.76 158.6L394.26 361.1M608.89 158.6L406.39 361.1M621.02 158.6L418.52 361.1M633.15 158.6L430.65 361.1M645.28 158.6L442.78 361.1M657.41 158.6L454.91 361.1M669.54 158.6L467.04 361.1M681.67 158.6L479.17 361.1M693.8 158.6L491.3 361.1M705.93 158.6L503.43 361.1M718.06 158.6L515.56 361.1M730.19 158.6L527.69 361.1M742.32 158.6L539.82 361.1M754.45 158.6L551.95 361.1M766.58 158.6L564.08 361.1" stroke="#000" stroke-width="1.12"/></g>
<g clip-path="url(#c6)" fill="none"><path d="M572.5 158.6L370 361.1M584.63 158.6L382.13 361.1M596.76 158.6L394.26 361.1M608.89 158.6L406.39 361.1M621.02 158.6L418.52 361.1M633.15 158.6L430.65 361.1M645.28 158.6L442.78 361.1M657.41 158.6L454.91 361.1M669.54 158.6L467.04 361.1M681.67 158.6L479.17 361.1M693.8 158.6L491.3 361.1M705.93 158.6L503.43 361.1M718.06 158.6L515.56 361.1M730.19 158.6L527.69 361.1M742.32 158.6L539.82 361.1M754.45 158.6L551.95 361.1M766.58 158.6L564.08 361.1M778.71 158.6L576.21 361.1M790.84 158.6L588.34 361.1M802.97 158.6L600.47 361.1" stroke="#000" stroke-width="1.12"/></g>
<g clip-path="url(#c7)" fill="none"><path d="M528.17 158.6L483.47 203.3M534.24 158.6L489.54 203.3M540.31 158.6L495.61 203.3M546.37 158.6L501.67 203.3M552.44 158.6L507.74 203.3M558.5 158.6L513.8 203.3M564.57 158.6L519.87 203.3M570.63 158.6L525.93 203.3M576.7 158.6L532 203.3M582.76 158.6L538.06 203.3M588.83 158.6L544.13 203.3" stroke="#000" stroke-width="1.12"/></g>
<path d="M544.7 159.6L535.3 159.6A4.2 4.2 0 0 0 531.1 163.8L531.1 167.2L523.3 173.5L523.3 199.1Q523.5 202 527 202.3L541 202.3" fill="none" stroke="#000" stroke-width="1.45" />
<path d="M544.12 162.5L544.8 162.9L544.8 163.3L544.8 163.7L544.8 164.1L544.8 164.5L544.45 164.9L542.97 165.31L541.39 165.71L539.91 166.11L539.6 166.51L539.6 166.91L539.6 167.31L539.6 167.71L539.6 168.11L540.32 168.51L541.85 168.91L543.43 169.31L544.8 169.71L544.8 170.12L544.8 170.52L544.8 170.92L544.8 171.32L544.8 171.72L543.68 172.12L542.12 172.52L540.57 172.92L539.6 173.32L539.6 173.72L539.6 174.12L539.6 174.52L539.6 174.92L539.68 175.33L541.12 175.73L542.7 176.13L544.22 176.53L544.8 176.93L544.8 177.33L544.8 177.73L544.8 178.13L544.8 178.53L544.36 178.93L542.86 179.33L541.28 179.73L539.82 180.13L539.6 180.54L539.6 180.94L539.6 181.34L539.6 181.74L539.6 182.14L540.43 182.54L541.96 182.94L543.53 183.34L544.8 183.74L544.8 184.14L544.8 184.54L544.8 184.94L544.8 185.35L544.8 185.75L543.58 186.15L542.01 186.55L540.47 186.95L539.6 187.35L539.6 187.75L539.6 188.15L539.6 188.55L539.6 188.95L539.78 189.35L541.23 189.75L542.81 190.15L544.31 190.56L544.8 190.96L544.8 191.36L544.8 191.76L544.8 192.16L544.8 192.56L544.26 192.96L542.75 193.36L541.17 193.76L539.72 194.16L539.6 194.56L539.6 194.96L539.6 195.37L539.6 195.77L539.6 196.17L540.53 196.57L542.07 196.97L543.64 197.37L544.8 197.77L544.8 198.17L544.8 198.57L544.8 198.97L544.8 199.37L544.8 199.77L543.47 200.17L541.9 200.58L540.37 200.98L539.6 201.38L539.6 201.78L539.6 202.18L539.6 202.58L539.6 202.98L539.87 203.38L541.34 203.78L542.92 204.18L544.41 204.58L544.8 204.98L544.8 205.38L544.8 205.79L544.8 206.19L544.8 206.59L544.16 206.99L542.64 207.39L541.06 207.79L539.63 208.19L539.6 208.59L539.6 208.99L539.6 209.39L539.6 209.79L539.6 210.19L540.63 210.6L542.18 211L543.74 211.4L544.8 211.8L544.8 212.2L544.8 212.6L544.8 213" fill="none" stroke="#000" stroke-width="1.7" />
<g clip-path="url(#c8)" fill="none"><path d="M515.1 202.3L507.9 209.5M520 202.3L512.8 209.5M524.9 202.3L517.7 209.5M529.8 202.3L522.6 209.5M534.7 202.3L527.5 209.5M539.6 202.3L532.4 209.5M544.5 202.3L537.3 209.5" stroke="#000" stroke-width="1.12"/></g>
<path d="M512.5 203.3L540.1 203.3L540.1 208.5L512.5 208.5Z" fill="none" stroke="#000" stroke-width="1.3" />
<path d="M540.1 208.5L540.1 246.5L531.6 246.5A2 2 0 0 0 529.6 248.5L529.6 322.5Q529.4 327.6 526.4 328.3L523.9 328.3L523.9 333.2L551 333.2L551 366.6" fill="none" stroke="#000" stroke-width="1.45" />
<path d="M526.4 328.3L526.4 333.2" fill="none" stroke="#000" stroke-width="1.1" />
<g clip-path="url(#c9)" fill="none"><path d="M588.82 158.6L544.12 203.3M594.89 158.6L550.19 203.3M600.96 158.6L556.26 203.3M607.02 158.6L562.32 203.3M613.09 158.6L568.39 203.3M619.15 158.6L574.45 203.3M625.22 158.6L580.52 203.3M631.28 158.6L586.58 203.3M637.35 158.6L592.65 203.3M643.41 158.6L598.71 203.3M649.48 158.6L604.78 203.3M655.54 158.6L610.84 203.3" stroke="#000" stroke-width="1.12"/></g>
<path d="M589.3 159.6L598.7 159.6A4.2 4.2 0 0 1 602.9 163.8L602.9 167.2L610.7 173.5L610.7 199.1Q610.5 202 607 202.3L593 202.3" fill="none" stroke="#000" stroke-width="1.45" />
<path d="M589.88 162.5L589.2 162.9L589.2 163.3L589.2 163.7L589.2 164.1L589.2 164.5L589.55 164.9L591.03 165.31L592.61 165.71L594.09 166.11L594.4 166.51L594.4 166.91L594.4 167.31L594.4 167.71L594.4 168.11L593.68 168.51L592.15 168.91L590.57 169.31L589.2 169.71L589.2 170.12L589.2 170.52L589.2 170.92L589.2 171.32L589.2 171.72L590.32 172.12L591.88 172.52L593.43 172.92L594.4 173.32L594.4 173.72L594.4 174.12L594.4 174.52L594.4 174.92L594.32 175.33L592.88 175.73L591.3 176.13L589.78 176.53L589.2 176.93L589.2 177.33L589.2 177.73L589.2 178.13L589.2 178.53L589.64 178.93L591.14 179.33L592.72 179.73L594.18 180.13L594.4 180.54L594.4 180.94L594.4 181.34L594.4 181.74L594.4 182.14L593.57 182.54L592.04 182.94L590.47 183.34L589.2 183.74L589.2 184.14L589.2 184.54L589.2 184.94L589.2 185.35L589.2 185.75L590.42 186.15L591.99 186.55L593.53 186.95L594.4 187.35L594.4 187.75L594.4 188.15L594.4 188.55L594.4 188.95L594.22 189.35L592.77 189.75L591.19 190.15L589.69 190.56L589.2 190.96L589.2 191.36L589.2 191.76L589.2 192.16L589.2 192.56L589.74 192.96L591.25 193.36L592.83 193.76L594.28 194.16L594.4 194.56L594.4 194.96L594.4 195.37L594.4 195.77L594.4 196.17L593.47 196.57L591.93 196.97L590.36 197.37L589.2 197.77L589.2 198.17L589.2 198.57L589.2 198.97L589.2 199.37L589.2 199.77L590.53 200.17L592.1 200.58L593.63 200.98L594.4 201.38L594.4 201.78L594.4 202.18L594.4 202.58L594.4 202.98L594.13 203.38L592.66 203.78L591.08 204.18L589.59 204.58L589.2 204.98L589.2 205.38L589.2 205.79L589.2 206.19L589.2 206.59L589.84 206.99L591.36 207.39L592.94 207.79L594.37 208.19L594.4 208.59L594.4 208.99L594.4 209.39L594.4 209.79L594.4 210.19L593.37 210.6L591.82 211L590.26 211.4L589.2 211.8L589.2 212.2L589.2 212.6L589.2 213" fill="none" stroke="#000" stroke-width="1.7" />
<g clip-path="url(#c10)" fill="none"><path d="M593.5 202.3L586.3 209.5M598.4 202.3L591.2 209.5M603.3 202.3L596.1 209.5M608.2 202.3L601 209.5M613.1 202.3L605.9 209.5M618 202.3L610.8 209.5M622.9 202.3L615.7 209.5M627.8 202.3L620.6 209.5" stroke="#000" stroke-width="1.12"/></g>
<path d="M621.5 203.3L593.9 203.3L593.9 208.5L621.5 208.5Z" fill="none" stroke="#000" stroke-width="1.3" />
<path d="M593.9 208.5L593.9 246.5L602.4 246.5A2 2 0 0 1 604.4 248.5L604.4 322.5Q604.6 327.6 607.6 328.3L610.1 328.3L610.1 333.2L583 333.2L583 366.6" fill="none" stroke="#000" stroke-width="1.45" />
<path d="M607.6 328.3L607.6 333.2" fill="none" stroke="#000" stroke-width="1.1" />
<path d="M535.3 159.6H598.7" fill="none" stroke="#000" stroke-width="1.45" />
<path d="M551 360.1H583" fill="none" stroke="#000" stroke-width="1.45" />
<path d="M551 366.6H583" fill="none" stroke="#000" stroke-width="1.45" />
<rect x="529.6" y="278.6" width="8.2" height="12.8" rx="1.6" fill="url(#org)" stroke="#000" stroke-width="1.5"/>
<rect x="529.6" y="301.9" width="8.2" height="12.4" rx="1.6" fill="url(#org)" stroke="#000" stroke-width="1.5"/>
<rect x="596.3" y="278.6" width="8.3" height="12.8" rx="1.6" fill="url(#org)" stroke="#000" stroke-width="1.5"/>
<rect x="596.3" y="301.9" width="8.3" height="12.4" rx="1.6" fill="url(#org)" stroke="#000" stroke-width="1.5"/>
<g clip-path="url(#c11)" fill="none"><path d="M432.21 265.3L324.01 373.5M444.34 265.3L336.14 373.5M456.47 265.3L348.27 373.5M468.6 265.3L360.4 373.5M480.73 265.3L372.53 373.5M492.86 265.3L384.66 373.5M504.99 265.3L396.79 373.5M517.12 265.3L408.92 373.5M529.25 265.3L421.05 373.5M541.38 265.3L433.18 373.5M553.51 265.3L445.31 373.5M565.64 265.3L457.44 373.5M577.77 265.3L469.57 373.5M589.9 265.3L481.7 373.5M602.03 265.3L493.83 373.5M614.16 265.3L505.96 373.5M626.29 265.3L518.09 373.5M638.42 265.3L530.22 373.5" stroke="#000" stroke-width="1.12"/></g>
<path d="M529.6 266.3L512.6 266.3L512.6 322L504.4 322L500.5 325.8L472.2 325.8L468.5 310.7L465.4 310.7" fill="none" stroke="#000" stroke-width="1.45" />
<path d="M426.7 323.6L462.2 339L464.1 372.5" fill="none" stroke="#000" stroke-width="1.45" />
<path d="M497.4 348L510.6 333.2L523.9 333.2" fill="none" stroke="#000" stroke-width="1.45" />
<path d="M510.6 333.2V350.6" fill="none" stroke="#000" stroke-width="1.45" />
<g clip-path="url(#c12)" fill="none"><path d="M614.16 265.3L505.96 373.5M626.29 265.3L518.09 373.5M638.42 265.3L530.22 373.5M650.55 265.3L542.35 373.5M662.68 265.3L554.48 373.5M674.81 265.3L566.61 373.5M686.94 265.3L578.74 373.5M699.07 265.3L590.87 373.5M711.2 265.3L603 373.5M723.33 265.3L615.13 373.5M735.46 265.3L627.26 373.5M747.59 265.3L639.39 373.5M759.72 265.3L651.52 373.5M771.85 265.3L663.65 373.5M783.98 265.3L675.78 373.5M796.11 265.3L687.91 373.5M808.24 265.3L700.04 373.5M820.37 265.3L712.17 373.5" stroke="#000" stroke-width="1.12"/></g>
<path d="M604.6 266.3L621.25 266.3L621.25 274.9L648.3 274.9L648.3 316.7L683.3 316.7L685 308.3" fill="none" stroke="#000" stroke-width="1.45" />
<path d="M723.3 323.6L693.9 339L693.9 342.5" fill="none" stroke="#000" stroke-width="1.45" />
<path d="M635.8 348.3L627 336.5" fill="none" stroke="#000" stroke-width="1.45" />
<path d="M583 333.2H615" fill="none" stroke="#000" stroke-width="1.45" />
<path d="M625.7 265.4V274.9M643.6 265.4V274.9" fill="none" stroke="#000" stroke-width="1.3" />
<path d="M627 329.5L627.4 329.5L627.81 329.5L628.21 329.56L628.61 330.46L629.02 331.44L629.42 332.43L629.83 333.3L630.23 333.3L630.63 333.3L631.04 333.3L631.44 333.3L631.84 333.3L632.25 333.3L632.65 332.49L633.05 331.51L633.46 330.53L633.86 329.62L634.27 329.5L634.67 329.5L635.07 329.5L635.48 329.5L635.88 329.5L636.28 329.5L636.69 330.16L637.09 331.13L637.49 332.12L637.9 333.05L638.3 333.3L638.7 333.3L639.11 333.3L639.51 333.3L639.92 333.3L640.32 333.3L640.72 332.78L641.13 331.83L641.53 330.83L641.93 329.89L642.34 329.5L642.74 329.5L643.14 329.5L643.55 329.5L643.95 329.5L644.36 329.5L644.76 329.88L645.16 330.82L645.57 331.81L645.97 332.77L646.37 333.3L646.78 333.3L647.18 333.3L647.58 333.3L647.99 333.3L648.39 333.3L648.8 333.06L649.2 332.14L649.6 331.15L650.01 330.18L650.41 329.5L650.81 329.5L651.22 329.5L651.62 329.5L652.02 329.5L652.43 329.5L652.83 329.61L653.23 330.51L653.64 331.5L654.04 332.47L654.45 333.3L654.85 333.3L655.25 333.3L655.66 333.3L656.06 333.3L656.46 333.3L656.87 333.3L657.27 332.44L657.67 331.46L658.08 330.48L658.48 329.58L658.89 329.5L659.29 329.5L659.69 329.5L660.1 329.5L660.5 329.5L660.5 327.5H669.7" fill="none" stroke="#000" stroke-width="1.4" />
<g clip-path="url(#c13)" fill="none"><path d="M431.01 506.3L363.81 573.5M443.14 506.3L375.94 573.5M455.27 506.3L388.07 573.5M467.4 506.3L400.2 573.5M479.53 506.3L412.33 573.5M491.66 506.3L424.46 573.5M503.79 506.3L436.59 573.5M515.92 506.3L448.72 573.5M528.05 506.3L460.85 573.5M540.18 506.3L472.98 573.5M552.31 506.3L485.11 573.5M564.44 506.3L497.24 573.5M576.57 506.3L509.37 573.5M588.7 506.3L521.5 573.5M600.83 506.3L533.63 573.5M612.96 506.3L545.76 573.5M625.09 506.3L557.89 573.5M637.22 506.3L570.02 573.5M649.35 506.3L582.15 573.5M661.48 506.3L594.28 573.5M673.61 506.3L606.41 573.5M685.74 506.3L618.54 573.5M697.87 506.3L630.67 573.5M710 506.3L642.8 573.5M722.13 506.3L654.93 573.5M734.26 506.3L667.06 573.5M746.39 506.3L679.19 573.5M758.52 506.3L691.32 573.5M770.65 506.3L703.45 573.5M782.78 506.3L715.58 573.5" stroke="#000" stroke-width="1.12"/></g>
<path d="M465.4 569.1L468.5 569.1L472.2 553.7L501.3 553.7L504 557.3L605 557.3L607.8 562.8L682.4 562.8L685 571.5" fill="none" stroke="#000" stroke-width="1.45" />
<path d="M723.3 556.2L693.9 540.8L693.9 536.8" fill="none" stroke="#000" stroke-width="1.45" />
<path d="M635.6 531.3L627 540.7" fill="none" stroke="#000" stroke-width="1.45" />
<path d="M498.2 531.3L510.7 546L619.7 546" fill="none" stroke="#000" stroke-width="1.45" />
<path d="M510.7 529.12V546" fill="none" stroke="#000" stroke-width="1.45" />
<path d="M464.1 507.3L462.2 540.8L426.7 556.2" fill="none" stroke="#000" stroke-width="1.45" />
<path d="M627 547.3L627.4 547.3L627.81 547.3L628.21 547.36L628.61 548.26L629.02 549.24L629.42 550.23L629.83 551.1L630.23 551.1L630.63 551.1L631.04 551.1L631.44 551.1L631.84 551.1L632.25 551.1L632.65 550.29L633.05 549.31L633.46 548.33L633.86 547.42L634.27 547.3L634.67 547.3L635.07 547.3L635.48 547.3L635.88 547.3L636.28 547.3L636.69 547.96L637.09 548.93L637.49 549.92L637.9 550.85L638.3 551.1L638.7 551.1L639.11 551.1L639.51 551.1L639.92 551.1L640.32 551.1L640.72 550.58L641.13 549.63L641.53 548.63L641.93 547.69L642.34 547.3L642.74 547.3L643.14 547.3L643.55 547.3L643.95 547.3L644.36 547.3L644.76 547.68L645.16 548.62L645.57 549.61L645.97 550.57L646.37 551.1L646.78 551.1L647.18 551.1L647.58 551.1L647.99 551.1L648.39 551.1L648.8 550.86L649.2 549.94L649.6 548.95L650.01 547.98L650.41 547.3L650.81 547.3L651.22 547.3L651.62 547.3L652.02 547.3L652.43 547.3L652.83 547.41L653.23 548.31L653.64 549.3L654.04 550.27L654.45 551.1L654.85 551.1L655.25 551.1L655.66 551.1L656.06 551.1L656.46 551.1L656.87 551.1L657.27 550.24L657.67 549.26L658.08 548.28L658.48 547.38L658.89 547.3L659.29 547.3L659.69 547.3L660.1 547.3L660.5 547.3L660.5 550.6H669.7V562.8" fill="none" stroke="#000" stroke-width="1.4" />
<g clip-path="url(#c14)" fill="none"><path d="M438.21 232.4L191.61 479M450.34 232.4L203.74 479M462.47 232.4L215.87 479M474.6 232.4L228 479M486.73 232.4L240.13 479M498.86 232.4L252.26 479M510.99 232.4L264.39 479M523.12 232.4L276.52 479M535.25 232.4L288.65 479M547.38 232.4L300.78 479M559.51 232.4L312.91 479M571.64 232.4L325.04 479M583.77 232.4L337.17 479M595.9 232.4L349.3 479M608.03 232.4L361.43 479M620.16 232.4L373.56 479M632.29 232.4L385.69 479M644.42 232.4L397.82 479M656.55 232.4L409.95 479M668.68 232.4L422.08 479M680.81 232.4L434.21 479M692.94 232.4L446.34 479M705.07 232.4L458.47 479M717.2 232.4L470.6 479M729.33 232.4L482.73 479M741.46 232.4L494.86 479M753.59 232.4L506.99 479M765.72 232.4L519.12 479M777.85 232.4L531.25 479M789.98 232.4L543.38 479M802.11 232.4L555.51 479M814.24 232.4L567.64 479M826.37 232.4L579.77 479M838.5 232.4L591.9 479M850.63 232.4L604.03 479M862.76 232.4L616.16 479M874.89 232.4L628.29 479M887.02 232.4L640.42 479M899.15 232.4L652.55 479M911.28 232.4L664.68 479M923.41 232.4L676.81 479M935.54 232.4L688.94 479M947.67 232.4L701.07 479M959.8 232.4L713.2 479M971.93 232.4L725.33 479M984.06 232.4L737.46 479M996.19 232.4L749.59 479" stroke="#000" stroke-width="1.12"/></g>
<path d="M489.8 367.99A105.5 105.5 0 0 1 536.5 338.9L551 335.8" fill="none" stroke="#000" stroke-width="1.3" />
<path d="M526.4 333.2L536.5 338.9" fill="none" stroke="#000" stroke-width="1.2" />
<path d="M583 336.2L596.8 338.7A105.5 105.5 0 0 1 644 367.78" fill="none" stroke="#000" stroke-width="1.3" />
<path d="M607.6 333.2L596.8 338.7" fill="none" stroke="#000" stroke-width="1.2" />
<g clip-path="url(#c15)" fill="none"><path d="M488.15 400.8L275.15 613.8M500.28 400.8L287.28 613.8M512.41 400.8L299.41 613.8M524.54 400.8L311.54 613.8M536.67 400.8L323.67 613.8M548.8 400.8L335.8 613.8M560.93 400.8L347.93 613.8M573.06 400.8L360.06 613.8M585.19 400.8L372.19 613.8M597.32 400.8L384.32 613.8M609.45 400.8L396.45 613.8M621.58 400.8L408.58 613.8M633.71 400.8L420.71 613.8M645.84 400.8L432.84 613.8M657.97 400.8L444.97 613.8M670.1 400.8L457.1 613.8M682.23 400.8L469.23 613.8M694.36 400.8L481.36 613.8M706.49 400.8L493.49 613.8M718.62 400.8L505.62 613.8M730.75 400.8L517.75 613.8M742.88 400.8L529.88 613.8M755.01 400.8L542.01 613.8M767.14 400.8L554.14 613.8M779.27 400.8L566.27 613.8M791.4 400.8L578.4 613.8M803.53 400.8L590.53 613.8M815.66 400.8L602.66 613.8M827.79 400.8L614.79 613.8M839.92 400.8L626.92 613.8M852.05 400.8L639.05 613.8M864.18 400.8L651.18 613.8M876.31 400.8L663.31 613.8M888.44 400.8L675.44 613.8M900.57 400.8L687.57 613.8M912.7 400.8L699.7 613.8M924.83 400.8L711.83 613.8M936.96 400.8L723.96 613.8M949.09 400.8L736.09 613.8M961.22 400.8L748.22 613.8" stroke="#000" stroke-width="1.12"/></g>
<path d="M489.8 511.81A105.5 105.5 0 0 0 644 512.02" fill="none" stroke="#000" stroke-width="1.3" />
<g clip-path="url(#c16)" fill="none"><path d="M384.18 261.49L171.18 474.49M392.58 261.49L179.58 474.49M400.98 261.49L187.98 474.49M409.38 261.49L196.38 474.49M417.78 261.49L204.78 474.49M426.18 261.49L213.18 474.49M434.58 261.49L221.58 474.49M442.98 261.49L229.98 474.49M451.38 261.49L238.38 474.49M459.78 261.49L246.78 474.49M468.18 261.49L255.18 474.49M476.58 261.49L263.58 474.49M484.98 261.49L271.98 474.49M493.38 261.49L280.38 474.49M501.78 261.49L288.78 474.49M510.18 261.49L297.18 474.49M518.58 261.49L305.58 474.49M526.98 261.49L313.98 474.49M535.38 261.49L322.38 474.49M543.78 261.49L330.78 474.49M552.18 261.49L339.18 474.49M560.58 261.49L347.58 474.49M568.98 261.49L355.98 474.49M577.38 261.49L364.38 474.49M585.78 261.49L372.78 474.49M594.18 261.49L381.18 474.49M602.58 261.49L389.58 474.49M610.98 261.49L397.98 474.49M619.38 261.49L406.38 474.49M627.78 261.49L414.78 474.49M636.18 261.49L423.18 474.49M644.58 261.49L431.58 474.49M652.98 261.49L439.98 474.49M661.38 261.49L448.38 474.49M669.78 261.49L456.78 474.49M678.18 261.49L465.18 474.49M686.58 261.49L473.58 474.49M694.98 261.49L481.98 474.49M703.38 261.49L490.38 474.49M711.78 261.49L498.78 474.49M720.18 261.49L507.18 474.49M728.58 261.49L515.58 474.49M736.98 261.49L523.98 474.49M745.38 261.49L532.38 474.49M753.78 261.49L540.78 474.49M762.18 261.49L549.18 474.49M770.58 261.49L557.58 474.49M778.98 261.49L565.98 474.49M787.38 261.49L574.38 474.49M795.78 261.49L582.78 474.49M804.18 261.49L591.18 474.49" stroke="#000" stroke-width="1.12"/><path d="M176.62 261.49L389.62 474.49M185.02 261.49L398.02 474.49M193.42 261.49L406.42 474.49M201.82 261.49L414.82 474.49M210.22 261.49L423.22 474.49M218.62 261.49L431.62 474.49M227.02 261.49L440.02 474.49M235.42 261.49L448.42 474.49M243.82 261.49L456.82 474.49M252.22 261.49L465.22 474.49M260.62 261.49L473.62 474.49M269.02 261.49L482.02 474.49M277.42 261.49L490.42 474.49M285.82 261.49L498.82 474.49M294.22 261.49L507.22 474.49M302.62 261.49L515.62 474.49M311.02 261.49L524.02 474.49M319.42 261.49L532.42 474.49M327.82 261.49L540.82 474.49M336.22 261.49L549.22 474.49M344.62 261.49L557.62 474.49M353.02 261.49L566.02 474.49M361.42 261.49L574.42 474.49M369.82 261.49L582.82 474.49M378.22 261.49L591.22 474.49M386.62 261.49L599.62 474.49M395.02 261.49L608.02 474.49M403.42 261.49L616.42 474.49M411.82 261.49L624.82 474.49M420.22 261.49L633.22 474.49M428.62 261.49L641.62 474.49M437.02 261.49L650.02 474.49M445.42 261.49L658.42 474.49M453.82 261.49L666.82 474.49M462.22 261.49L675.22 474.49M470.62 261.49L683.62 474.49M479.02 261.49L692.02 474.49M487.42 261.49L700.42 474.49M495.82 261.49L708.82 474.49M504.22 261.49L717.22 474.49M512.62 261.49L725.62 474.49M521.02 261.49L734.02 474.49M529.42 261.49L742.42 474.49M537.82 261.49L750.82 474.49M546.22 261.49L759.22 474.49M554.62 261.49L767.62 474.49M563.02 261.49L776.02 474.49M571.42 261.49L784.42 474.49M579.82 261.49L792.82 474.49M588.22 261.49L801.22 474.49" stroke="#000" stroke-width="1.12"/></g>
<path d="M474.9 348L497.6 348L498.3 348.8L498.3 359.83A105.5 105.5 0 0 0 489.8 367.99" fill="none" stroke="#000" stroke-width="1.45" />
<g clip-path="url(#c17)" fill="none"><path d="M535.05 253.42L322.05 466.42M543.45 253.42L330.45 466.42M551.85 253.42L338.85 466.42M560.25 253.42L347.25 466.42M568.65 253.42L355.65 466.42M577.05 253.42L364.05 466.42M585.45 253.42L372.45 466.42M593.85 253.42L380.85 466.42M602.25 253.42L389.25 466.42M610.65 253.42L397.65 466.42M619.05 253.42L406.05 466.42M627.45 253.42L414.45 466.42M635.85 253.42L422.85 466.42M644.25 253.42L431.25 466.42M652.65 253.42L439.65 466.42M661.05 253.42L448.05 466.42M669.45 253.42L456.45 466.42M677.85 253.42L464.85 466.42M686.25 253.42L473.25 466.42M694.65 253.42L481.65 466.42M703.05 253.42L490.05 466.42M711.45 253.42L498.45 466.42M719.85 253.42L506.85 466.42M728.25 253.42L515.25 466.42M736.65 253.42L523.65 466.42M745.05 253.42L532.05 466.42M753.45 253.42L540.45 466.42M761.85 253.42L548.85 466.42M770.25 253.42L557.25 466.42M778.65 253.42L565.65 466.42M787.05 253.42L574.05 466.42M795.45 253.42L582.45 466.42M803.85 253.42L590.85 466.42M812.25 253.42L599.25 466.42M820.65 253.42L607.65 466.42M829.05 253.42L616.05 466.42M837.45 253.42L624.45 466.42M845.85 253.42L632.85 466.42M854.25 253.42L641.25 466.42M862.65 253.42L649.65 466.42M871.05 253.42L658.05 466.42M879.45 253.42L666.45 466.42M887.85 253.42L674.85 466.42M896.25 253.42L683.25 466.42M904.65 253.42L691.65 466.42M913.05 253.42L700.05 466.42M921.45 253.42L708.45 466.42M929.85 253.42L716.85 466.42M938.25 253.42L725.25 466.42M946.65 253.42L733.65 466.42M955.05 253.42L742.05 466.42" stroke="#000" stroke-width="1.12"/><path d="M319.75 253.42L532.75 466.42M328.15 253.42L541.15 466.42M336.55 253.42L549.55 466.42M344.95 253.42L557.95 466.42M353.35 253.42L566.35 466.42M361.75 253.42L574.75 466.42M370.15 253.42L583.15 466.42M378.55 253.42L591.55 466.42M386.95 253.42L599.95 466.42M395.35 253.42L608.35 466.42M403.75 253.42L616.75 466.42M412.15 253.42L625.15 466.42M420.55 253.42L633.55 466.42M428.95 253.42L641.95 466.42M437.35 253.42L650.35 466.42M445.75 253.42L658.75 466.42M454.15 253.42L667.15 466.42M462.55 253.42L675.55 466.42M470.95 253.42L683.95 466.42M479.35 253.42L692.35 466.42M487.75 253.42L700.75 466.42M496.15 253.42L709.15 466.42M504.55 253.42L717.55 466.42M512.95 253.42L725.95 466.42M521.35 253.42L734.35 466.42M529.75 253.42L742.75 466.42M538.15 253.42L751.15 466.42M546.55 253.42L759.55 466.42M554.95 253.42L767.95 466.42M563.35 253.42L776.35 466.42M571.75 253.42L784.75 466.42M580.15 253.42L793.15 466.42M588.55 253.42L801.55 466.42M596.95 253.42L809.95 466.42M605.35 253.42L818.35 466.42M613.75 253.42L826.75 466.42M622.15 253.42L835.15 466.42M630.55 253.42L843.55 466.42M638.95 253.42L851.95 466.42M647.35 253.42L860.35 466.42M655.75 253.42L868.75 466.42M664.15 253.42L877.15 466.42M672.55 253.42L885.55 466.42M680.95 253.42L893.95 466.42M689.35 253.42L902.35 466.42M697.75 253.42L910.75 466.42M706.15 253.42L919.15 466.42M714.55 253.42L927.55 466.42M722.95 253.42L935.95 466.42M731.35 253.42L944.35 466.42M739.75 253.42L952.75 466.42" stroke="#000" stroke-width="1.12"/></g>
<path d="M635.8 359.92L635.8 348.3L659.2 348.3" fill="none" stroke="#000" stroke-width="1.45" />
<g clip-path="url(#c18)" fill="none"><path d="M391.56 405.31L178.56 618.31M399.96 405.31L186.96 618.31M408.36 405.31L195.36 618.31M416.76 405.31L203.76 618.31M425.16 405.31L212.16 618.31M433.56 405.31L220.56 618.31M441.96 405.31L228.96 618.31M450.36 405.31L237.36 618.31M458.76 405.31L245.76 618.31M467.16 405.31L254.16 618.31M475.56 405.31L262.56 618.31M483.96 405.31L270.96 618.31M492.36 405.31L279.36 618.31M500.76 405.31L287.76 618.31M509.16 405.31L296.16 618.31M517.56 405.31L304.56 618.31M525.96 405.31L312.96 618.31M534.36 405.31L321.36 618.31M542.76 405.31L329.76 618.31M551.16 405.31L338.16 618.31M559.56 405.31L346.56 618.31M567.96 405.31L354.96 618.31M576.36 405.31L363.36 618.31M584.76 405.31L371.76 618.31M593.16 405.31L380.16 618.31M601.56 405.31L388.56 618.31M609.96 405.31L396.96 618.31M618.36 405.31L405.36 618.31M626.76 405.31L413.76 618.31M635.16 405.31L422.16 618.31M643.56 405.31L430.56 618.31M651.96 405.31L438.96 618.31M660.36 405.31L447.36 618.31M668.76 405.31L455.76 618.31M677.16 405.31L464.16 618.31M685.56 405.31L472.56 618.31M693.96 405.31L480.96 618.31M702.36 405.31L489.36 618.31M710.76 405.31L497.76 618.31M719.16 405.31L506.16 618.31M727.56 405.31L514.56 618.31M735.96 405.31L522.96 618.31M744.36 405.31L531.36 618.31M752.76 405.31L539.76 618.31M761.16 405.31L548.16 618.31M769.56 405.31L556.56 618.31M777.96 405.31L564.96 618.31M786.36 405.31L573.36 618.31M794.76 405.31L581.76 618.31M803.16 405.31L590.16 618.31" stroke="#000" stroke-width="1.12"/><path d="M177.64 405.31L390.64 618.31M186.04 405.31L399.04 618.31M194.44 405.31L407.44 618.31M202.84 405.31L415.84 618.31M211.24 405.31L424.24 618.31M219.64 405.31L432.64 618.31M228.04 405.31L441.04 618.31M236.44 405.31L449.44 618.31M244.84 405.31L457.84 618.31M253.24 405.31L466.24 618.31M261.64 405.31L474.64 618.31M270.04 405.31L483.04 618.31M278.44 405.31L491.44 618.31M286.84 405.31L499.84 618.31M295.24 405.31L508.24 618.31M303.64 405.31L516.64 618.31M312.04 405.31L525.04 618.31M320.44 405.31L533.44 618.31M328.84 405.31L541.84 618.31M337.24 405.31L550.24 618.31M345.64 405.31L558.64 618.31M354.04 405.31L567.04 618.31M362.44 405.31L575.44 618.31M370.84 405.31L583.84 618.31M379.24 405.31L592.24 618.31M387.64 405.31L600.64 618.31M396.04 405.31L609.04 618.31M404.44 405.31L617.44 618.31M412.84 405.31L625.84 618.31M421.24 405.31L634.24 618.31M429.64 405.31L642.64 618.31M438.04 405.31L651.04 618.31M446.44 405.31L659.44 618.31M454.84 405.31L667.84 618.31M463.24 405.31L676.24 618.31M471.64 405.31L684.64 618.31M480.04 405.31L693.04 618.31M488.44 405.31L701.44 618.31M496.84 405.31L709.84 618.31M505.24 405.31L718.24 618.31M513.64 405.31L726.64 618.31M522.04 405.31L735.04 618.31M530.44 405.31L743.44 618.31M538.84 405.31L751.84 618.31M547.24 405.31L760.24 618.31M555.64 405.31L768.64 618.31M564.04 405.31L777.04 618.31M572.44 405.31L785.44 618.31M580.84 405.31L793.84 618.31M589.24 405.31L802.24 618.31" stroke="#000" stroke-width="1.12"/></g>
<path d="M474.9 531.8L497.6 531.8L498.3 531L498.3 519.97A105.5 105.5 0 0 1 489.8 511.81" fill="none" stroke="#000" stroke-width="1.45" />
<g clip-path="url(#c19)" fill="none"><path d="M534.69 413.38L321.69 626.38M543.09 413.38L330.09 626.38M551.49 413.38L338.49 626.38M559.89 413.38L346.89 626.38M568.29 413.38L355.29 626.38M576.69 413.38L363.69 626.38M585.09 413.38L372.09 626.38M593.49 413.38L380.49 626.38M601.89 413.38L388.89 626.38M610.29 413.38L397.29 626.38M618.69 413.38L405.69 626.38M627.09 413.38L414.09 626.38M635.49 413.38L422.49 626.38M643.89 413.38L430.89 626.38M652.29 413.38L439.29 626.38M660.69 413.38L447.69 626.38M669.09 413.38L456.09 626.38M677.49 413.38L464.49 626.38M685.89 413.38L472.89 626.38M694.29 413.38L481.29 626.38M702.69 413.38L489.69 626.38M711.09 413.38L498.09 626.38M719.49 413.38L506.49 626.38M727.89 413.38L514.89 626.38M736.29 413.38L523.29 626.38M744.69 413.38L531.69 626.38M753.09 413.38L540.09 626.38M761.49 413.38L548.49 626.38M769.89 413.38L556.89 626.38M778.29 413.38L565.29 626.38M786.69 413.38L573.69 626.38M795.09 413.38L582.09 626.38M803.49 413.38L590.49 626.38M811.89 413.38L598.89 626.38M820.29 413.38L607.29 626.38M828.69 413.38L615.69 626.38M837.09 413.38L624.09 626.38M845.49 413.38L632.49 626.38M853.89 413.38L640.89 626.38M862.29 413.38L649.29 626.38M870.69 413.38L657.69 626.38M879.09 413.38L666.09 626.38M887.49 413.38L674.49 626.38M895.89 413.38L682.89 626.38M904.29 413.38L691.29 626.38M912.69 413.38L699.69 626.38M921.09 413.38L708.09 626.38M929.49 413.38L716.49 626.38M937.89 413.38L724.89 626.38M946.29 413.38L733.29 626.38M954.69 413.38L741.69 626.38" stroke="#000" stroke-width="1.12"/><path d="M320.11 413.38L533.11 626.38M328.51 413.38L541.51 626.38M336.91 413.38L549.91 626.38M345.31 413.38L558.31 626.38M353.71 413.38L566.71 626.38M362.11 413.38L575.11 626.38M370.51 413.38L583.51 626.38M378.91 413.38L591.91 626.38M387.31 413.38L600.31 626.38M395.71 413.38L608.71 626.38M404.11 413.38L617.11 626.38M412.51 413.38L625.51 626.38M420.91 413.38L633.91 626.38M429.31 413.38L642.31 626.38M437.71 413.38L650.71 626.38M446.11 413.38L659.11 626.38M454.51 413.38L667.51 626.38M462.91 413.38L675.91 626.38M471.31 413.38L684.31 626.38M479.71 413.38L692.71 626.38M488.11 413.38L701.11 626.38M496.51 413.38L709.51 626.38M504.91 413.38L717.91 626.38M513.31 413.38L726.31 626.38M521.71 413.38L734.71 626.38M530.11 413.38L743.11 626.38M538.51 413.38L751.51 626.38M546.91 413.38L759.91 626.38M555.31 413.38L768.31 626.38M563.71 413.38L776.71 626.38M572.11 413.38L785.11 626.38M580.51 413.38L793.51 626.38M588.91 413.38L801.91 626.38M597.31 413.38L810.31 626.38M605.71 413.38L818.71 626.38M614.11 413.38L827.11 626.38M622.51 413.38L835.51 626.38M630.91 413.38L843.91 626.38M639.31 413.38L852.31 626.38M647.71 413.38L860.71 626.38M656.11 413.38L869.11 626.38M664.51 413.38L877.51 626.38M672.91 413.38L885.91 626.38M681.31 413.38L894.31 626.38M689.71 413.38L902.71 626.38M698.11 413.38L911.11 626.38M706.51 413.38L919.51 626.38M714.91 413.38L927.91 626.38M723.31 413.38L936.31 626.38M731.71 413.38L944.71 626.38M740.11 413.38L953.11 626.38" stroke="#000" stroke-width="1.12"/></g>
<path d="M635.8 519.88L635.8 531.5L659.2 531.5" fill="none" stroke="#000" stroke-width="1.45" />
<path d="M420 323.3L420 309.6Q420.2 307.3 423.3 307.3Q426.5 307.3 426.7 309.6L426.7 323.3Z" fill="#f2f2f2"/>
<g clip-path="url(#c20)" fill="none"><path d="M419.4 306.3V324.3M421 306.3V324.3M422.6 306.3V324.3M424.2 306.3V324.3M425.8 306.3V324.3M427.4 306.3V324.3" stroke="#7c7c7c" stroke-width="0.65"/></g>
<path d="M420 323.3L420 309.6Q420.2 307.3 423.3 307.3Q426.5 307.3 426.7 309.6L426.7 323.3Z" fill="none" stroke="#000" stroke-width="1.3" />
<path d="M412.9 311.8Q413.1 307.3 415.5 307.3Q417.9 307.3 418.1 311.8Z" fill="#f2f2f2"/>
<g clip-path="url(#c21)" fill="none"><path d="M413 306.3V312.8M414.6 306.3V312.8M416.2 306.3V312.8M417.8 306.3V312.8" stroke="#7c7c7c" stroke-width="0.65"/></g>
<path d="M412.9 311.8Q413.1 307.3 415.5 307.3Q417.9 307.3 418.1 311.8Z" fill="none" stroke="#000" stroke-width="1.3" />
<path d="M404.7 311.8Q404.9 307.3 407.3 307.3Q409.7 307.3 409.9 311.8Z" fill="#f2f2f2"/>
<g clip-path="url(#c22)" fill="none"><path d="M405 306.3V312.8M406.6 306.3V312.8M408.2 306.3V312.8M409.8 306.3V312.8" stroke="#7c7c7c" stroke-width="0.65"/></g>
<path d="M404.7 311.8Q404.9 307.3 407.3 307.3Q409.7 307.3 409.9 311.8Z" fill="none" stroke="#000" stroke-width="1.3" />
<path d="M420 556.5L420 570.2Q420.2 572.5 423.3 572.5Q426.5 572.5 426.7 570.2L426.7 556.5Z" fill="#f2f2f2"/>
<g clip-path="url(#c23)" fill="none"><path d="M419.4 555.5V573.5M421 555.5V573.5M422.6 555.5V573.5M424.2 555.5V573.5M425.8 555.5V573.5M427.4 555.5V573.5" stroke="#7c7c7c" stroke-width="0.65"/></g>
<path d="M420 556.5L420 570.2Q420.2 572.5 423.3 572.5Q426.5 572.5 426.7 570.2L426.7 556.5Z" fill="none" stroke="#000" stroke-width="1.3" />
<path d="M408.8 568Q409 572.5 411.4 572.5Q413.8 572.5 414 568Z" fill="#f2f2f2"/>
<g clip-path="url(#c24)" fill="none"><path d="M408.2 567V573.5M409.8 567V573.5M411.4 567V573.5M413 567V573.5M414.6 567V573.5" stroke="#7c7c7c" stroke-width="0.65"/></g>
<path d="M408.8 568Q409 572.5 411.4 572.5Q413.8 572.5 414 568Z" fill="none" stroke="#000" stroke-width="1.3" />
<path d="M400.6 568Q400.8 572.5 403.2 572.5Q405.6 572.5 405.8 568Z" fill="#f2f2f2"/>
<g clip-path="url(#c25)" fill="none"><path d="M400.2 567V573.5M401.8 567V573.5M403.4 567V573.5M405 567V573.5M406.6 567V573.5" stroke="#7c7c7c" stroke-width="0.65"/></g>
<path d="M400.6 568Q400.8 572.5 403.2 572.5Q405.6 572.5 405.8 568Z" fill="none" stroke="#000" stroke-width="1.3" />
<path d="M730 323.3L730 309.6Q729.8 307.3 726.7 307.3Q723.5 307.3 723.3 309.6L723.3 323.3Z" fill="#f2f2f2"/>
<g clip-path="url(#c26)" fill="none"><path d="M723.4 306.3V324.3M725 306.3V324.3M726.6 306.3V324.3M728.2 306.3V324.3M729.8 306.3V324.3" stroke="#7c7c7c" stroke-width="0.65"/></g>
<path d="M730 323.3L730 309.6Q729.8 307.3 726.7 307.3Q723.5 307.3 723.3 309.6L723.3 323.3Z" fill="none" stroke="#000" stroke-width="1.3" />
<path d="M740.5 311.8Q740.3 307.3 737.9 307.3Q735.5 307.3 735.3 311.8Z" fill="#f2f2f2"/>
<g clip-path="url(#c27)" fill="none"><path d="M734.6 306.3V312.8M736.2 306.3V312.8M737.8 306.3V312.8M739.4 306.3V312.8M741 306.3V312.8" stroke="#7c7c7c" stroke-width="0.65"/></g>
<path d="M740.5 311.8Q740.3 307.3 737.9 307.3Q735.5 307.3 735.3 311.8Z" fill="none" stroke="#000" stroke-width="1.3" />
<path d="M748.7 311.8Q748.5 307.3 746.1 307.3Q743.7 307.3 743.5 311.8Z" fill="#f2f2f2"/>
<g clip-path="url(#c28)" fill="none"><path d="M742.6 306.3V312.8M744.2 306.3V312.8M745.8 306.3V312.8M747.4 306.3V312.8M749 306.3V312.8" stroke="#7c7c7c" stroke-width="0.65"/></g>
<path d="M748.7 311.8Q748.5 307.3 746.1 307.3Q743.7 307.3 743.5 311.8Z" fill="none" stroke="#000" stroke-width="1.3" />
<path d="M730 556.5L730 570.2Q729.8 572.5 726.7 572.5Q723.5 572.5 723.3 570.2L723.3 556.5Z" fill="#f2f2f2"/>
<g clip-path="url(#c29)" fill="none"><path d="M723.4 555.5V573.5M725 555.5V573.5M726.6 555.5V573.5M728.2 555.5V573.5M729.8 555.5V573.5" stroke="#7c7c7c" stroke-width="0.65"/></g>
<path d="M730 556.5L730 570.2Q729.8 572.5 726.7 572.5Q723.5 572.5 723.3 570.2L723.3 556.5Z" fill="none" stroke="#000" stroke-width="1.3" />
<path d="M736 568Q735.8 572.5 733.4 572.5Q731 572.5 730.8 568Z" fill="#f2f2f2"/>
<g clip-path="url(#c30)" fill="none"><path d="M729.8 567V573.5M731.4 567V573.5M733 567V573.5M734.6 567V573.5M736.2 567V573.5" stroke="#7c7c7c" stroke-width="0.65"/></g>
<path d="M736 568Q735.8 572.5 733.4 572.5Q731 572.5 730.8 568Z" fill="none" stroke="#000" stroke-width="1.3" />
<path d="M744.2 568Q744 572.5 741.6 572.5Q739.2 572.5 739 568Z" fill="#f2f2f2"/>
<g clip-path="url(#c31)" fill="none"><path d="M739.4 567V573.5M741 567V573.5M742.6 567V573.5M744.2 567V573.5" stroke="#7c7c7c" stroke-width="0.65"/></g>
<path d="M744.2 568Q744 572.5 741.6 572.5Q739.2 572.5 739 568Z" fill="none" stroke="#000" stroke-width="1.3" />
<path d="M614.8 345.85V332Q615 329.2 618.4 328.9Q621.6 329.2 622.5 332.8Q623 329.3 624.9 328.9Q626.8 329.2 627 332V353.12A105.5 105.5 0 0 0 614.8 345.85Z" fill="#f2f2f2"/>
<g clip-path="url(#c32)" fill="none"><path d="M509 239.35V452.35M510.6 239.35V452.35M512.2 239.35V452.35M513.8 239.35V452.35M515.4 239.35V452.35M517 239.35V452.35M518.6 239.35V452.35M520.2 239.35V452.35M521.8 239.35V452.35M523.4 239.35V452.35M525 239.35V452.35M526.6 239.35V452.35M528.2 239.35V452.35M529.8 239.35V452.35M531.4 239.35V452.35M533 239.35V452.35M534.6 239.35V452.35M536.2 239.35V452.35M537.8 239.35V452.35M539.4 239.35V452.35M541 239.35V452.35M542.6 239.35V452.35M544.2 239.35V452.35M545.8 239.35V452.35M547.4 239.35V452.35M549 239.35V452.35M550.6 239.35V452.35M552.2 239.35V452.35M553.8 239.35V452.35M555.4 239.35V452.35M557 239.35V452.35M558.6 239.35V452.35M560.2 239.35V452.35M561.8 239.35V452.35M563.4 239.35V452.35M565 239.35V452.35M566.6 239.35V452.35M568.2 239.35V452.35M569.8 239.35V452.35M571.4 239.35V452.35M573 239.35V452.35M574.6 239.35V452.35M576.2 239.35V452.35M577.8 239.35V452.35M579.4 239.35V452.35M581 239.35V452.35M582.6 239.35V452.35M584.2 239.35V452.35M585.8 239.35V452.35M587.4 239.35V452.35M589 239.35V452.35M590.6 239.35V452.35M592.2 239.35V452.35M593.8 239.35V452.35M595.4 239.35V452.35M597 239.35V452.35M598.6 239.35V452.35M600.2 239.35V452.35M601.8 239.35V452.35M603.4 239.35V452.35M605 239.35V452.35M606.6 239.35V452.35M608.2 239.35V452.35M609.8 239.35V452.35M611.4 239.35V452.35M613 239.35V452.35M614.6 239.35V452.35M616.2 239.35V452.35M617.8 239.35V452.35M619.4 239.35V452.35M621 239.35V452.35M622.6 239.35V452.35M624.2 239.35V452.35M625.8 239.35V452.35M627.4 239.35V452.35M629 239.35V452.35M630.6 239.35V452.35M632.2 239.35V452.35M633.8 239.35V452.35M635.4 239.35V452.35M637 239.35V452.35M638.6 239.35V452.35M640.2 239.35V452.35M641.8 239.35V452.35M643.4 239.35V452.35M645 239.35V452.35M646.6 239.35V452.35M648.2 239.35V452.35M649.8 239.35V452.35M651.4 239.35V452.35M653 239.35V452.35M654.6 239.35V452.35M656.2 239.35V452.35M657.8 239.35V452.35M659.4 239.35V452.35M661 239.35V452.35M662.6 239.35V452.35M664.2 239.35V452.35M665.8 239.35V452.35M667.4 239.35V452.35M669 239.35V452.35M670.6 239.35V452.35M672.2 239.35V452.35M673.8 239.35V452.35M675.4 239.35V452.35M677 239.35V452.35M678.6 239.35V452.35M680.2 239.35V452.35M681.8 239.35V452.35M683.4 239.35V452.35M685 239.35V452.35M686.6 239.35V452.35M688.2 239.35V452.35M689.8 239.35V452.35M691.4 239.35V452.35M693 239.35V452.35M694.6 239.35V452.35M696.2 239.35V452.35M697.8 239.35V452.35M699.4 239.35V452.35M701 239.35V452.35M702.6 239.35V452.35M704.2 239.35V452.35M705.8 239.35V452.35M707.4 239.35V452.35M709 239.35V452.35M710.6 239.35V452.35M712.2 239.35V452.35M713.8 239.35V452.35M715.4 239.35V452.35M717 239.35V452.35M718.6 239.35V452.35M720.2 239.35V452.35" stroke="#7c7c7c" stroke-width="0.65"/></g>
<path d="M614.8 345.85V332Q615 329.2 618.4 328.9Q621.6 329.2 622.5 332.8Q623 329.3 624.9 328.9Q626.8 329.2 627 332V353.12A105.5 105.5 0 0 0 614.8 345.85Z" fill="none" stroke="#000" stroke-width="1.3" />
<path d="M622.4 332.6V350.12" fill="none" stroke="#333" stroke-width="1" />
<path d="M619.7 531.29V551.2H626.6V526.95A105.5 105.5 0 0 1 619.7 531.29Z" fill="#f2f2f2"/>
<g clip-path="url(#c33)" fill="none"><path d="M513.8 424.79V637.79M515.4 424.79V637.79M517 424.79V637.79M518.6 424.79V637.79M520.2 424.79V637.79M521.8 424.79V637.79M523.4 424.79V637.79M525 424.79V637.79M526.6 424.79V637.79M528.2 424.79V637.79M529.8 424.79V637.79M531.4 424.79V637.79M533 424.79V637.79M534.6 424.79V637.79M536.2 424.79V637.79M537.8 424.79V637.79M539.4 424.79V637.79M541 424.79V637.79M542.6 424.79V637.79M544.2 424.79V637.79M545.8 424.79V637.79M547.4 424.79V637.79M549 424.79V637.79M550.6 424.79V637.79M552.2 424.79V637.79M553.8 424.79V637.79M555.4 424.79V637.79M557 424.79V637.79M558.6 424.79V637.79M560.2 424.79V637.79M561.8 424.79V637.79M563.4 424.79V637.79M565 424.79V637.79M566.6 424.79V637.79M568.2 424.79V637.79M569.8 424.79V637.79M571.4 424.79V637.79M573 424.79V637.79M574.6 424.79V637.79M576.2 424.79V637.79M577.8 424.79V637.79M579.4 424.79V637.79M581 424.79V637.79M582.6 424.79V637.79M584.2 424.79V637.79M585.8 424.79V637.79M587.4 424.79V637.79M589 424.79V637.79M590.6 424.79V637.79M592.2 424.79V637.79M593.8 424.79V637.79M595.4 424.79V637.79M597 424.79V637.79M598.6 424.79V637.79M600.2 424.79V637.79M601.8 424.79V637.79M603.4 424.79V637.79M605 424.79V637.79M606.6 424.79V637.79M608.2 424.79V637.79M609.8 424.79V637.79M611.4 424.79V637.79M613 424.79V637.79M614.6 424.79V637.79M616.2 424.79V637.79M617.8 424.79V637.79M619.4 424.79V637.79M621 424.79V637.79M622.6 424.79V637.79M624.2 424.79V637.79M625.8 424.79V637.79M627.4 424.79V637.79M629 424.79V637.79M630.6 424.79V637.79M632.2 424.79V637.79M633.8 424.79V637.79M635.4 424.79V637.79M637 424.79V637.79M638.6 424.79V637.79M640.2 424.79V637.79M641.8 424.79V637.79M643.4 424.79V637.79M645 424.79V637.79M646.6 424.79V637.79M648.2 424.79V637.79M649.8 424.79V637.79M651.4 424.79V637.79M653 424.79V637.79M654.6 424.79V637.79M656.2 424.79V637.79M657.8 424.79V637.79M659.4 424.79V637.79M661 424.79V637.79M662.6 424.79V637.79M664.2 424.79V637.79M665.8 424.79V637.79M667.4 424.79V637.79M669 424.79V637.79M670.6 424.79V637.79M672.2 424.79V637.79M673.8 424.79V637.79M675.4 424.79V637.79M677 424.79V637.79M678.6 424.79V637.79M680.2 424.79V637.79M681.8 424.79V637.79M683.4 424.79V637.79M685 424.79V637.79M686.6 424.79V637.79M688.2 424.79V637.79M689.8 424.79V637.79M691.4 424.79V637.79M693 424.79V637.79M694.6 424.79V637.79M696.2 424.79V637.79M697.8 424.79V637.79M699.4 424.79V637.79M701 424.79V637.79M702.6 424.79V637.79M704.2 424.79V637.79M705.8 424.79V637.79M707.4 424.79V637.79M709 424.79V637.79M710.6 424.79V637.79M712.2 424.79V637.79M713.8 424.79V637.79M715.4 424.79V637.79M717 424.79V637.79M718.6 424.79V637.79M720.2 424.79V637.79M721.8 424.79V637.79M723.4 424.79V637.79M725 424.79V637.79" stroke="#7c7c7c" stroke-width="0.65"/></g>
<path d="M619.7 531.29V551.2H626.6V526.95A105.5 105.5 0 0 1 619.7 531.29Z" fill="none" stroke="#000" stroke-width="1.3" />
<g clip-path="url(#c34)" fill="none"><path d="M274.04 312L217.84 368.2M286.17 312L229.97 368.2M298.3 312L242.1 368.2M310.43 312L254.23 368.2M322.56 312L266.36 368.2M334.69 312L278.49 368.2M346.82 312L290.62 368.2M358.95 312L302.75 368.2M371.08 312L314.88 368.2M383.21 312L327.01 368.2M395.34 312L339.14 368.2M407.47 312L351.27 368.2M419.6 312L363.4 368.2M431.73 312L375.53 368.2M443.86 312L387.66 368.2M455.99 312L399.79 368.2M468.12 312L411.92 368.2M480.25 312L424.05 368.2M492.38 312L436.18 368.2" stroke="#000" stroke-width="1.12"/><path d="M211.13 312L267.33 368.2M223.26 312L279.46 368.2M235.39 312L291.59 368.2M247.52 312L303.72 368.2M259.65 312L315.85 368.2M271.78 312L327.98 368.2M283.91 312L340.11 368.2M296.04 312L352.24 368.2M308.17 312L364.37 368.2M320.3 312L376.5 368.2M332.43 312L388.63 368.2M344.56 312L400.76 368.2M356.69 312L412.89 368.2M368.82 312L425.02 368.2M380.95 312L437.15 368.2M393.08 312L449.28 368.2M405.21 312L461.41 368.2M417.34 312L473.54 368.2M429.47 312L485.67 368.2M441.6 312L497.8 368.2" stroke="#000" stroke-width="1.12"/></g>
<path d="M268 325L389.6 325L389.6 313L419.4 313L419.4 339.8L446.5 339.8L446.5 367.2L381.25 367.2L381.25 357.5L268 357.5Z" fill="none" stroke="#000" stroke-width="1.45" />
<g clip-path="url(#c35)" fill="none"><path d="M420 316.9L374.2 362.7M428.5 316.9L382.7 362.7M437 316.9L391.2 362.7M445.5 316.9L399.7 362.7M454 316.9L408.2 362.7M462.5 316.9L416.7 362.7M471 316.9L425.2 362.7M479.5 316.9L433.7 362.7M488 316.9L442.2 362.7M496.5 316.9L450.7 362.7M505 316.9L459.2 362.7" stroke="#000" stroke-width="1.12"/><path d="M374.44 316.9L420.24 362.7M382.94 316.9L428.74 362.7M391.44 316.9L437.24 362.7M399.94 316.9L445.74 362.7M408.44 316.9L454.24 362.7M416.94 316.9L462.74 362.7M425.44 316.9L471.24 362.7M433.94 316.9L479.74 362.7M442.44 316.9L488.24 362.7M450.94 316.9L496.74 362.7M459.44 316.9L505.24 362.7" stroke="#000" stroke-width="1.12"/></g>
<path d="M419.4 339.8L419.4 323.4L422.7 323.4A21.9 21.9 0 0 1 444.3 339.8Z" fill="none" stroke="#000" stroke-width="1.45" />
<path d="M389.6 313L419.4 313" fill="none" stroke="#000" stroke-width="1.8" />
<g clip-path="url(#c36)" fill="none"><path d="M384.05 285.7L346.25 323.5M396.18 285.7L358.38 323.5M408.31 285.7L370.51 323.5M420.44 285.7L382.64 323.5M432.57 285.7L394.77 323.5M444.7 285.7L406.9 323.5M456.83 285.7L419.03 323.5M468.96 285.7L431.16 323.5M481.09 285.7L443.29 323.5M493.22 285.7L455.42 323.5" stroke="#000" stroke-width="1.12"/></g>
<path d="M384.2 286.7L460 286.7L465.4 296.25L465.4 308.3L465.4 307.3L465 307.3L464.59 307.3L464.19 307.3L463.79 307.3L463.38 307.52L462.98 308.65L462.58 309.87L462.17 311.07L461.77 312L461.37 312L460.97 312L460.56 312L460.16 312L459.76 312L459.35 311.96L458.95 310.86L458.55 309.64L458.14 308.43L457.74 307.33L457.34 307.3L456.93 307.3L456.53 307.3L456.13 307.3L455.72 307.3L455.32 307.3L454.92 308.25L454.52 309.45L454.11 310.67L453.71 311.8L453.31 312L452.9 312L452.5 312L452.1 312L451.69 312L451.29 312L450.89 311.25L450.48 310.06L450.08 308.83L449.68 307.68L449.27 307.3L448.87 307.3L448.47 307.3L448.07 307.3L447.66 307.3L447.26 307.3L446.86 307.86L446.45 309.03L446.05 310.26L445.65 311.43L445.24 312L444.84 312L444.44 312L444.03 312L443.63 312L443.23 312L442.82 311.63L442.42 310.48L442.02 309.25L441.62 308.06L441.21 307.3L440.81 307.3L440.41 307.3L440 307.3L439.6 307.3L439.2 307.3L438.79 307.49L438.39 308.62L437.99 309.84L437.58 311.05L437.18 312L436.78 312L436.38 312L435.97 312L435.57 312L435.17 312L434.76 311.98L434.36 310.88L433.96 309.67L433.55 308.45L433.15 307.35L432.75 307.3L432.34 307.3L431.94 307.3L431.54 307.3L431.13 307.3L430.73 307.3L430.33 308.22L429.93 309.42L429.52 310.64L429.12 311.77L428.72 312L428.31 312L427.91 312L427.51 312L427.1 312L426.7 312" fill="none" stroke="#000" stroke-width="1.45" />
<path d="M404 311.5L389.6 311.5L389.6 325.4L378.3 325.4L378.3 296.25L384.2 286.7" fill="none" stroke="#000" stroke-width="1.45" />
<path d="M378.3 322.5L389.6 322.5" fill="none" stroke="#000" stroke-width="1.2" />
<g clip-path="url(#c37)" fill="none"><path d="M268.52 511.6L212.32 567.8M280.65 511.6L224.45 567.8M292.78 511.6L236.58 567.8M304.91 511.6L248.71 567.8M317.04 511.6L260.84 567.8M329.17 511.6L272.97 567.8M341.3 511.6L285.1 567.8M353.43 511.6L297.23 567.8M365.56 511.6L309.36 567.8M377.69 511.6L321.49 567.8M389.82 511.6L333.62 567.8M401.95 511.6L345.75 567.8M414.08 511.6L357.88 567.8M426.21 511.6L370.01 567.8M438.34 511.6L382.14 567.8M450.47 511.6L394.27 567.8M462.6 511.6L406.4 567.8M474.73 511.6L418.53 567.8M486.86 511.6L430.66 567.8M498.99 511.6L442.79 567.8" stroke="#000" stroke-width="1.12"/><path d="M216.65 511.6L272.85 567.8M228.78 511.6L284.98 567.8M240.91 511.6L297.11 567.8M253.04 511.6L309.24 567.8M265.17 511.6L321.37 567.8M277.3 511.6L333.5 567.8M289.43 511.6L345.63 567.8M301.56 511.6L357.76 567.8M313.69 511.6L369.89 567.8M325.82 511.6L382.02 567.8M337.95 511.6L394.15 567.8M350.08 511.6L406.28 567.8M362.21 511.6L418.41 567.8M374.34 511.6L430.54 567.8M386.47 511.6L442.67 567.8M398.6 511.6L454.8 567.8M410.73 511.6L466.93 567.8M422.86 511.6L479.06 567.8M434.99 511.6L491.19 567.8M447.12 511.6L503.32 567.8" stroke="#000" stroke-width="1.12"/></g>
<path d="M268 554.8L389.6 554.8L389.6 566.8L419.4 566.8L419.4 540L446.5 540L446.5 512.6L381.25 512.6L381.25 522.3L268 522.3Z" fill="none" stroke="#000" stroke-width="1.45" />
<g clip-path="url(#c38)" fill="none"><path d="M423.8 517.1L378 562.9M432.3 517.1L386.5 562.9M440.8 517.1L395 562.9M449.3 517.1L403.5 562.9M457.8 517.1L412 562.9M466.3 517.1L420.5 562.9M474.8 517.1L429 562.9M483.3 517.1L437.5 562.9M491.8 517.1L446 562.9M500.3 517.1L454.5 562.9M508.8 517.1L463 562.9" stroke="#000" stroke-width="1.12"/><path d="M379.14 517.1L424.94 562.9M387.64 517.1L433.44 562.9M396.14 517.1L441.94 562.9M404.64 517.1L450.44 562.9M413.14 517.1L458.94 562.9M421.64 517.1L467.44 562.9M430.14 517.1L475.94 562.9M438.64 517.1L484.44 562.9M447.14 517.1L492.94 562.9M455.64 517.1L501.44 562.9M464.14 517.1L509.94 562.9" stroke="#000" stroke-width="1.12"/></g>
<path d="M419.4 540L419.4 556.4L422.7 556.4A21.9 21.9 0 0 0 444.3 540Z" fill="none" stroke="#000" stroke-width="1.45" />
<path d="M389.6 566.8L419.4 566.8" fill="none" stroke="#000" stroke-width="1.8" />
<g clip-path="url(#c39)" fill="none"><path d="M382.71 556.3L344.91 594.1M394.84 556.3L357.04 594.1M406.97 556.3L369.17 594.1M419.1 556.3L381.3 594.1M431.23 556.3L393.43 594.1M443.36 556.3L405.56 594.1M455.49 556.3L417.69 594.1M467.62 556.3L429.82 594.1M479.75 556.3L441.95 594.1M491.88 556.3L454.08 594.1M504.01 556.3L466.21 594.1" stroke="#000" stroke-width="1.12"/></g>
<path d="M384.2 593.1L460 593.1L465.4 583.55L465.4 571.5L465.4 567.8L465 567.8L464.59 567.8L464.19 567.8L463.79 567.8L463.38 568.02L462.98 569.15L462.58 570.37L462.17 571.57L461.77 572.5L461.37 572.5L460.97 572.5L460.56 572.5L460.16 572.5L459.76 572.5L459.35 572.46L458.95 571.36L458.55 570.14L458.14 568.93L457.74 567.83L457.34 567.8L456.93 567.8L456.53 567.8L456.13 567.8L455.72 567.8L455.32 567.8L454.92 568.75L454.52 569.95L454.11 571.17L453.71 572.3L453.31 572.5L452.9 572.5L452.5 572.5L452.1 572.5L451.69 572.5L451.29 572.5L450.89 571.75L450.48 570.56L450.08 569.33L449.68 568.18L449.27 567.8L448.87 567.8L448.47 567.8L448.07 567.8L447.66 567.8L447.26 567.8L446.86 568.36L446.45 569.53L446.05 570.76L445.65 571.93L445.24 572.5L444.84 572.5L444.44 572.5L444.03 572.5L443.63 572.5L443.23 572.5L442.82 572.13L442.42 570.98L442.02 569.75L441.62 568.56L441.21 567.8L440.81 567.8L440.41 567.8L440 567.8L439.6 567.8L439.2 567.8L438.79 567.99L438.39 569.12L437.99 570.34L437.58 571.55L437.18 572.5L436.78 572.5L436.38 572.5L435.97 572.5L435.57 572.5L435.17 572.5L434.76 572.48L434.36 571.38L433.96 570.17L433.55 568.95L433.15 567.85L432.75 567.8L432.34 567.8L431.94 567.8L431.54 567.8L431.13 567.8L430.73 567.8L430.33 568.72L429.93 569.92L429.52 571.14L429.12 572.27L428.72 572.5L428.31 572.5L427.91 572.5L427.51 572.5L427.1 572.5L426.7 572.5" fill="none" stroke="#000" stroke-width="1.45" />
<path d="M404 568.3L389.6 568.3L389.6 554.4L378.3 554.4L378.3 583.55L384.2 593.1" fill="none" stroke="#000" stroke-width="1.45" />
<path d="M378.3 557.3L389.6 557.3" fill="none" stroke="#000" stroke-width="1.2" />
<g clip-path="url(#c40)" fill="none"><path d="M710.72 312L654.52 368.2M722.85 312L666.65 368.2M734.98 312L678.78 368.2M747.11 312L690.91 368.2M759.24 312L703.04 368.2M771.37 312L715.17 368.2M783.5 312L727.3 368.2M795.63 312L739.43 368.2M807.76 312L751.56 368.2M819.89 312L763.69 368.2M832.02 312L775.82 368.2M844.15 312L787.95 368.2M856.28 312L800.08 368.2M868.41 312L812.21 368.2M880.54 312L824.34 368.2M892.67 312L836.47 368.2M904.8 312L848.6 368.2M916.93 312L860.73 368.2M929.06 312L872.86 368.2" stroke="#000" stroke-width="1.12"/><path d="M647.81 312L704.01 368.2M659.94 312L716.14 368.2M672.07 312L728.27 368.2M684.2 312L740.4 368.2M696.33 312L752.53 368.2M708.46 312L764.66 368.2M720.59 312L776.79 368.2M732.72 312L788.92 368.2M744.85 312L801.05 368.2M756.98 312L813.18 368.2M769.11 312L825.31 368.2M781.24 312L837.44 368.2M793.37 312L849.57 368.2M805.5 312L861.7 368.2M817.63 312L873.83 368.2M829.76 312L885.96 368.2M841.89 312L898.09 368.2M854.02 312L910.22 368.2M866.15 312L922.35 368.2M878.28 312L934.48 368.2" stroke="#000" stroke-width="1.12"/></g>
<path d="M882.3 325L760.4 325L760.4 313L730.6 313L730.6 339.8L703.5 339.8L703.5 367.2L768.75 367.2L768.75 357.5L882.3 357.5Z" fill="none" stroke="#000" stroke-width="1.45" />
<g clip-path="url(#c41)" fill="none"><path d="M683.5 316.9L637.7 362.7M692 316.9L646.2 362.7M700.5 316.9L654.7 362.7M709 316.9L663.2 362.7M717.5 316.9L671.7 362.7M726 316.9L680.2 362.7M734.5 316.9L688.7 362.7M743 316.9L697.2 362.7M751.5 316.9L705.7 362.7M760 316.9L714.2 362.7M768.5 316.9L722.7 362.7M777 316.9L731.2 362.7" stroke="#000" stroke-width="1.12"/><path d="M637.94 316.9L683.74 362.7M646.44 316.9L692.24 362.7M654.94 316.9L700.74 362.7M663.44 316.9L709.24 362.7M671.94 316.9L717.74 362.7M680.44 316.9L726.24 362.7M688.94 316.9L734.74 362.7M697.44 316.9L743.24 362.7M705.94 316.9L751.74 362.7M714.44 316.9L760.24 362.7M722.94 316.9L768.74 362.7M731.44 316.9L777.24 362.7" stroke="#000" stroke-width="1.12"/></g>
<path d="M730.6 339.8L730.6 323.4L727.3 323.4A21.9 21.9 0 0 0 705.7 339.8Z" fill="none" stroke="#000" stroke-width="1.45" />
<path d="M760.4 313L730.6 313" fill="none" stroke="#000" stroke-width="1.8" />
<g clip-path="url(#c42)" fill="none"><path d="M687.3 285.7L649.5 323.5M699.43 285.7L661.63 323.5M711.56 285.7L673.76 323.5M723.69 285.7L685.89 323.5M735.82 285.7L698.02 323.5M747.95 285.7L710.15 323.5M760.08 285.7L722.28 323.5M772.21 285.7L734.41 323.5M784.34 285.7L746.54 323.5M796.47 285.7L758.67 323.5M808.6 285.7L770.8 323.5" stroke="#000" stroke-width="1.12"/></g>
<path d="M765.8 286.7L690 286.7L684.6 296.25L684.6 308.3L684.6 312L685 312L685.41 312L685.81 312L686.21 310.96L686.62 309.76L687.02 308.54L687.42 307.42L687.83 307.3L688.23 307.3L688.63 307.3L689.03 307.3L689.44 307.3L689.84 307.3L690.24 308.14L690.65 309.33L691.05 310.56L691.45 311.7L691.86 312L692.26 312L692.66 312L693.07 312L693.47 312L693.87 312L694.28 311.35L694.68 310.17L695.08 308.95L695.48 307.78L695.89 307.3L696.29 307.3L696.69 307.3L697.1 307.3L697.5 307.3L697.9 307.3L698.31 307.76L698.71 308.92L699.11 310.15L699.52 311.33L699.92 312L700.32 312L700.73 312L701.13 312L701.53 312L701.93 312L702.34 311.72L702.74 310.59L703.14 309.36L703.55 308.17L703.95 307.3L704.35 307.3L704.76 307.3L705.16 307.3L705.56 307.3L705.97 307.3L706.37 307.4L706.77 308.51L707.17 309.73L707.58 310.94L707.98 312L708.38 312L708.79 312L709.19 312L709.59 312L710 312L710.4 312L710.8 310.99L711.21 309.78L711.61 308.56L712.01 307.45L712.42 307.3L712.82 307.3L713.22 307.3L713.62 307.3L714.03 307.3L714.43 307.3L714.83 308.11L715.24 309.31L715.64 310.53L716.04 311.68L716.45 312L716.85 312L717.25 312L717.66 312L718.06 312L718.46 312L718.87 311.38L719.27 310.2L719.67 308.97L720.08 307.81L720.48 307.3L720.88 307.3L721.28 307.3L721.69 307.3L722.09 307.3L722.49 307.3L722.9 307.73L723.3 308.89" fill="none" stroke="#000" stroke-width="1.45" />
<path d="M746 311.5L760.4 311.5L760.4 325.4L771.7 325.4L771.7 296.25L765.8 286.7" fill="none" stroke="#000" stroke-width="1.45" />
<path d="M771.7 322.5L760.4 322.5" fill="none" stroke="#000" stroke-width="1.2" />
<g clip-path="url(#c43)" fill="none"><path d="M705.2 511.6L649 567.8M717.33 511.6L661.13 567.8M729.46 511.6L673.26 567.8M741.59 511.6L685.39 567.8M753.72 511.6L697.52 567.8M765.85 511.6L709.65 567.8M777.98 511.6L721.78 567.8M790.11 511.6L733.91 567.8M802.24 511.6L746.04 567.8M814.37 511.6L758.17 567.8M826.5 511.6L770.3 567.8M838.63 511.6L782.43 567.8M850.76 511.6L794.56 567.8M862.89 511.6L806.69 567.8M875.02 511.6L818.82 567.8M887.15 511.6L830.95 567.8M899.28 511.6L843.08 567.8M911.41 511.6L855.21 567.8M923.54 511.6L867.34 567.8M935.67 511.6L879.47 567.8" stroke="#000" stroke-width="1.12"/><path d="M653.33 511.6L709.53 567.8M665.46 511.6L721.66 567.8M677.59 511.6L733.79 567.8M689.72 511.6L745.92 567.8M701.85 511.6L758.05 567.8M713.98 511.6L770.18 567.8M726.11 511.6L782.31 567.8M738.24 511.6L794.44 567.8M750.37 511.6L806.57 567.8M762.5 511.6L818.7 567.8M774.63 511.6L830.83 567.8M786.76 511.6L842.96 567.8M798.89 511.6L855.09 567.8M811.02 511.6L867.22 567.8M823.15 511.6L879.35 567.8M835.28 511.6L891.48 567.8M847.41 511.6L903.61 567.8M859.54 511.6L915.74 567.8M871.67 511.6L927.87 567.8" stroke="#000" stroke-width="1.12"/></g>
<path d="M882.3 554.8L760.4 554.8L760.4 566.8L730.6 566.8L730.6 540L703.5 540L703.5 512.6L768.75 512.6L768.75 522.3L882.3 522.3Z" fill="none" stroke="#000" stroke-width="1.45" />
<g clip-path="url(#c44)" fill="none"><path d="M687.3 517.1L641.5 562.9M695.8 517.1L650 562.9M704.3 517.1L658.5 562.9M712.8 517.1L667 562.9M721.3 517.1L675.5 562.9M729.8 517.1L684 562.9M738.3 517.1L692.5 562.9M746.8 517.1L701 562.9M755.3 517.1L709.5 562.9M763.8 517.1L718 562.9M772.3 517.1L726.5 562.9" stroke="#000" stroke-width="1.12"/><path d="M642.64 517.1L688.44 562.9M651.14 517.1L696.94 562.9M659.64 517.1L705.44 562.9M668.14 517.1L713.94 562.9M676.64 517.1L722.44 562.9M685.14 517.1L730.94 562.9M693.64 517.1L739.44 562.9M702.14 517.1L747.94 562.9M710.64 517.1L756.44 562.9M719.14 517.1L764.94 562.9M727.64 517.1L773.44 562.9" stroke="#000" stroke-width="1.12"/></g>
<path d="M730.6 540L730.6 556.4L727.3 556.4A21.9 21.9 0 0 1 705.7 540Z" fill="none" stroke="#000" stroke-width="1.45" />
<path d="M760.4 566.8L730.6 566.8" fill="none" stroke="#000" stroke-width="1.8" />
<g clip-path="url(#c45)" fill="none"><path d="M685.96 556.3L648.16 594.1M698.09 556.3L660.29 594.1M710.22 556.3L672.42 594.1M722.35 556.3L684.55 594.1M734.48 556.3L696.68 594.1M746.61 556.3L708.81 594.1M758.74 556.3L720.94 594.1M770.87 556.3L733.07 594.1M783 556.3L745.2 594.1M795.13 556.3L757.33 594.1M807.26 556.3L769.46 594.1" stroke="#000" stroke-width="1.12"/></g>
<path d="M765.8 593.1L690 593.1L684.6 583.55L684.6 571.5L684.6 572.5L685 572.5L685.41 572.5L685.81 571.47L686.21 570.26L686.62 569.05L687.02 567.93L687.42 567.8L687.83 567.8L688.23 567.8L688.63 567.8L689.03 567.8L689.44 567.8L689.84 568.63L690.24 569.83L690.65 571.05L691.05 572.19L691.45 572.5L691.86 572.5L692.26 572.5L692.66 572.5L693.07 572.5L693.47 572.5L693.87 571.86L694.28 570.68L694.68 569.46L695.08 568.29L695.48 567.8L695.89 567.8L696.29 567.8L696.69 567.8L697.1 567.8L697.5 567.8L697.9 568.25L698.31 569.41L698.71 570.64L699.11 571.82L699.52 572.5L699.92 572.5L700.32 572.5L700.73 572.5L701.13 572.5L701.53 572.5L701.93 572.23L702.34 571.1L702.74 569.87L703.14 568.67L703.55 567.8L703.95 567.8L704.35 567.8L704.76 567.8L705.16 567.8L705.56 567.8L705.97 567.89L706.37 569L706.77 570.22L707.17 571.43L707.58 572.5L707.98 572.5L708.38 572.5L708.79 572.5L709.19 572.5L709.59 572.5L710 572.5L710.4 571.5L710.8 570.29L711.21 569.07L711.61 567.95L712.01 567.8L712.42 567.8L712.82 567.8L713.22 567.8L713.62 567.8L714.03 567.8L714.43 568.6L714.83 569.8L715.24 571.02L715.64 572.17L716.04 572.5L716.45 572.5L716.85 572.5L717.25 572.5L717.66 572.5L718.06 572.5L718.46 571.89L718.87 570.71L719.27 569.48L719.67 568.32L720.08 567.8L720.48 567.8L720.88 567.8L721.28 567.8L721.69 567.8L722.09 567.8L722.49 568.22L722.9 569.38L723.3 570.61" fill="none" stroke="#000" stroke-width="1.45" />
<path d="M746 568.3L760.4 568.3L760.4 554.4L771.7 554.4L771.7 583.55L765.8 593.1" fill="none" stroke="#000" stroke-width="1.45" />
<path d="M771.7 557.3L760.4 557.3" fill="none" stroke="#000" stroke-width="1.2" />
<path d="M669.7 316.7V328.7M669.7 342.5V536.8H693.9V339M669.7 342.5H693.9" fill="none" stroke="#000" stroke-width="1.45" />
<path d="M669.7 487.7H693.9M669.7 510.2H693.9M669.7 520H693.9" fill="none" stroke="#000" stroke-width="1.3" />
<path d="M268 325V554.5M882.3 325V554.5" fill="none" stroke="#000" stroke-width="1.45" />
<path d="M381.25 357.5V522M768.75 357.5V522" fill="none" stroke="#000" stroke-width="1.45" />
<path d="M446.4 339.6V539.9M703.6 339.6V539.9" fill="none" stroke="#000" stroke-width="1.45" />
<path d="M461.6 339V540.5" fill="none" stroke="#000" stroke-width="1.1" />
<path d="M464.1 372.5V507.3" fill="none" stroke="#000" stroke-width="1.1" />
<path d="M474.75 348V531.5M489.8 366V513.5M644 366V513.5M659.2 348V531.5" fill="none" stroke="#000" stroke-width="1.45" />
<path d="M230.5 372.5H474.75M230.5 507.3H474.75" fill="none" stroke="#000" stroke-width="1.05" />
<path d="M474.75 372.5H669.7M474.75 507.3H669.7" fill="none" stroke="#000" stroke-width="1.3" />
<path d="M255 440.2H901" fill="none" stroke="#1a1a1a" stroke-width="1.2" stroke-dasharray="37.5 5.5 6.5 6"/>
<path d="M567 4V46" fill="none" stroke="#1a1a1a" stroke-width="1.2" />
<path d="M567 398.3V440" fill="none" stroke="#1a1a1a" stroke-width="1.2" />
<path d="M567 51.7V396" fill="none" stroke="#1a1a1a" stroke-width="1.2" stroke-dasharray="7.3 6 36.7 5.7"/>
<path d="M237.7 372.5V507.3" fill="none" stroke="#222" stroke-width="1.1" />
<path d="M267.8 554.5V646.5M882.4 554.5V646.5" fill="none" stroke="#222" stroke-width="1.1" />
<path d="M268 639.9H882.3" fill="none" stroke="#222" stroke-width="1.2" />
<path d="M777 19.4H959M893 440H959" fill="none" stroke="#222" stroke-width="1.2" />
<path d="M951.7 19.4V440" fill="none" stroke="#222" stroke-width="1.2" />
<path d="M237.7 372.5L239.95 385.5L235.45 385.5Z" fill="#111"/>
<path d="M237.7 507.3L235.45 494.3L239.95 494.3Z" fill="#111"/>
<path d="M268 639.9L281 637.65L281 642.15Z" fill="#111"/>
<path d="M882.3 639.9L869.3 642.15L869.3 637.65Z" fill="#111"/>
<path d="M951.7 19.6L953.95 32.6L949.45 32.6Z" fill="#111"/>
<path d="M951.7 439.8L949.45 426.8L953.95 426.8Z" fill="#111"/>
<path d="M631 1288 424 1262V86H688Q901 86 1001 106L1063 385H1128L1110 0H59V53L231 80V1262L59 1288V1341H631Z" transform="translate(568.65 636.7) scale(0.011038 -0.010216)" fill="#0a0a0a"/>
<path d="M59 0V53L231 80V1262L59 1288V1341H596V1288L424 1262V735H1055V1262L883 1288V1341H1419V1288L1247 1262V80L1419 53V0H883V53L1055 80V645H424V80L596 53V0Z" transform="translate(949.1 236.97) rotate(-90) scale(0.009706 -0.010515)" fill="#0a0a0a"/>
<path d="M958 1016Q958 1139 881.0 1195.0Q804 1251 631 1251H424V744H643Q805 744 881.5 808.0Q958 872 958 1016ZM1059 382Q1059 523 965.0 588.5Q871 654 664 654H424V90Q562 84 718 84Q889 84 974.0 156.5Q1059 229 1059 382ZM59 0V53L231 80V1262L59 1288V1341H672Q927 1341 1045.0 1265.5Q1163 1190 1163 1026Q1163 908 1090.5 825.0Q1018 742 887 714Q1068 695 1167.0 608.5Q1266 522 1266 386Q1266 193 1132.5 93.5Q999 -6 743 -6L315 0Z" transform="translate(234.74 446.46) rotate(-90) scale(0.009528 -0.010319)" fill="#0a0a0a"/>
</svg>
</body></html>
